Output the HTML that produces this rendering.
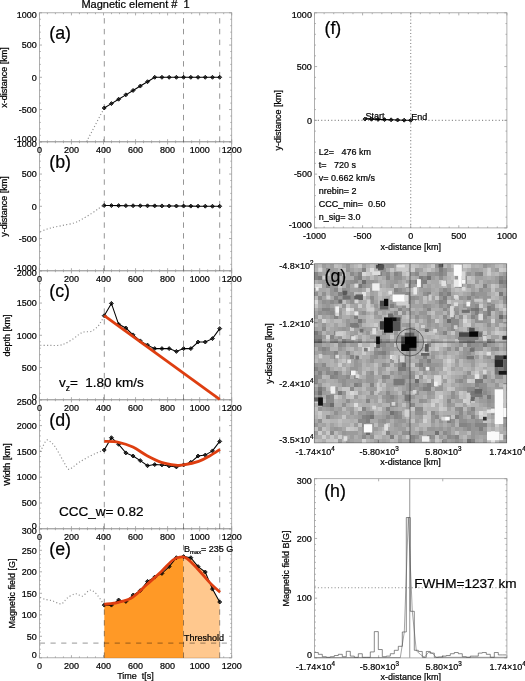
<!DOCTYPE html>
<html><head><meta charset="utf-8"><title>Magnetic element</title>
<style>html,body{margin:0;padding:0;background:#fff}svg{display:block}text{font-family:"Liberation Sans",sans-serif;fill:#000;stroke:#000;stroke-width:0.22px}</style>
</head><body>
<svg width="525" height="681" viewBox="0 0 525 681">
<rect width="525" height="681" fill="#fff"/>
<defs><filter id="noaa" color-interpolation-filters="sRGB" filterUnits="userSpaceOnUse" x="0" y="0" width="525" height="681"><feOffset dx="0" dy="0"/></filter></defs>
<g filter="url(#noaa)">
<rect x="39.40" y="12.80" width="192.30" height="129.00" fill="none" stroke="#9a9a9a" stroke-width="0.8"/>
<path d="M39.40 141.80v-2.60M39.40 12.80v2.60M47.41 141.80v-1.40M47.41 12.80v1.40M55.42 141.80v-1.40M55.42 12.80v1.40M63.44 141.80v-1.40M63.44 12.80v1.40M71.45 141.80v-2.60M71.45 12.80v2.60M79.46 141.80v-1.40M79.46 12.80v1.40M87.47 141.80v-1.40M87.47 12.80v1.40M95.49 141.80v-1.40M95.49 12.80v1.40M103.50 141.80v-2.60M103.50 12.80v2.60M111.51 141.80v-1.40M111.51 12.80v1.40M119.52 141.80v-1.40M119.52 12.80v1.40M127.54 141.80v-1.40M127.54 12.80v1.40M135.55 141.80v-2.60M135.55 12.80v2.60M143.56 141.80v-1.40M143.56 12.80v1.40M151.57 141.80v-1.40M151.57 12.80v1.40M159.59 141.80v-1.40M159.59 12.80v1.40M167.60 141.80v-2.60M167.60 12.80v2.60M175.61 141.80v-1.40M175.61 12.80v1.40M183.62 141.80v-1.40M183.62 12.80v1.40M191.64 141.80v-1.40M191.64 12.80v1.40M199.65 141.80v-2.60M199.65 12.80v2.60M207.66 141.80v-1.40M207.66 12.80v1.40M215.67 141.80v-1.40M215.67 12.80v1.40M223.69 141.80v-1.40M223.69 12.80v1.40M231.70 141.80v-2.60M231.70 12.80v2.60" stroke="#9a9a9a" stroke-width="0.8" fill="none"/>
<path d="M39.40 141.80h2.60M231.70 141.80h-2.60M39.40 135.35h1.40M231.70 135.35h-1.40M39.40 128.90h1.40M231.70 128.90h-1.40M39.40 122.45h1.40M231.70 122.45h-1.40M39.40 116.00h1.40M231.70 116.00h-1.40M39.40 109.55h2.60M231.70 109.55h-2.60M39.40 103.10h1.40M231.70 103.10h-1.40M39.40 96.65h1.40M231.70 96.65h-1.40M39.40 90.20h1.40M231.70 90.20h-1.40M39.40 83.75h1.40M231.70 83.75h-1.40M39.40 77.30h2.60M231.70 77.30h-2.60M39.40 70.85h1.40M231.70 70.85h-1.40M39.40 64.40h1.40M231.70 64.40h-1.40M39.40 57.95h1.40M231.70 57.95h-1.40M39.40 51.50h1.40M231.70 51.50h-1.40M39.40 45.05h2.60M231.70 45.05h-2.60M39.40 38.60h1.40M231.70 38.60h-1.40M39.40 32.15h1.40M231.70 32.15h-1.40M39.40 25.70h1.40M231.70 25.70h-1.40M39.40 19.25h1.40M231.70 19.25h-1.40M39.40 12.80h2.60M231.70 12.80h-2.60" stroke="#9a9a9a" stroke-width="0.8" fill="none"/>
<text transform="translate(7.0 77.50) rotate(-90)" font-size="9" text-anchor="middle">x-distance [km]</text>
<rect x="39.40" y="141.80" width="192.30" height="129.00" fill="none" stroke="#9a9a9a" stroke-width="0.8"/>
<path d="M39.40 270.80v-2.60M39.40 141.80v2.60M47.41 270.80v-1.40M47.41 141.80v1.40M55.42 270.80v-1.40M55.42 141.80v1.40M63.44 270.80v-1.40M63.44 141.80v1.40M71.45 270.80v-2.60M71.45 141.80v2.60M79.46 270.80v-1.40M79.46 141.80v1.40M87.47 270.80v-1.40M87.47 141.80v1.40M95.49 270.80v-1.40M95.49 141.80v1.40M103.50 270.80v-2.60M103.50 141.80v2.60M111.51 270.80v-1.40M111.51 141.80v1.40M119.52 270.80v-1.40M119.52 141.80v1.40M127.54 270.80v-1.40M127.54 141.80v1.40M135.55 270.80v-2.60M135.55 141.80v2.60M143.56 270.80v-1.40M143.56 141.80v1.40M151.57 270.80v-1.40M151.57 141.80v1.40M159.59 270.80v-1.40M159.59 141.80v1.40M167.60 270.80v-2.60M167.60 141.80v2.60M175.61 270.80v-1.40M175.61 141.80v1.40M183.62 270.80v-1.40M183.62 141.80v1.40M191.64 270.80v-1.40M191.64 141.80v1.40M199.65 270.80v-2.60M199.65 141.80v2.60M207.66 270.80v-1.40M207.66 141.80v1.40M215.67 270.80v-1.40M215.67 141.80v1.40M223.69 270.80v-1.40M223.69 141.80v1.40M231.70 270.80v-2.60M231.70 141.80v2.60" stroke="#9a9a9a" stroke-width="0.8" fill="none"/>
<path d="M39.40 270.80h2.60M231.70 270.80h-2.60M39.40 264.35h1.40M231.70 264.35h-1.40M39.40 257.90h1.40M231.70 257.90h-1.40M39.40 251.45h1.40M231.70 251.45h-1.40M39.40 245.00h1.40M231.70 245.00h-1.40M39.40 238.55h2.60M231.70 238.55h-2.60M39.40 232.10h1.40M231.70 232.10h-1.40M39.40 225.65h1.40M231.70 225.65h-1.40M39.40 219.20h1.40M231.70 219.20h-1.40M39.40 212.75h1.40M231.70 212.75h-1.40M39.40 206.30h2.60M231.70 206.30h-2.60M39.40 199.85h1.40M231.70 199.85h-1.40M39.40 193.40h1.40M231.70 193.40h-1.40M39.40 186.95h1.40M231.70 186.95h-1.40M39.40 180.50h1.40M231.70 180.50h-1.40M39.40 174.05h2.60M231.70 174.05h-2.60M39.40 167.60h1.40M231.70 167.60h-1.40M39.40 161.15h1.40M231.70 161.15h-1.40M39.40 154.70h1.40M231.70 154.70h-1.40M39.40 148.25h1.40M231.70 148.25h-1.40M39.40 141.80h2.60M231.70 141.80h-2.60" stroke="#9a9a9a" stroke-width="0.8" fill="none"/>
<text transform="translate(7.0 206.50) rotate(-90)" font-size="9" text-anchor="middle">y-distance [km]</text>
<rect x="39.40" y="270.80" width="192.30" height="129.00" fill="none" stroke="#9a9a9a" stroke-width="0.8"/>
<path d="M39.40 399.80v-2.60M39.40 270.80v2.60M47.41 399.80v-1.40M47.41 270.80v1.40M55.42 399.80v-1.40M55.42 270.80v1.40M63.44 399.80v-1.40M63.44 270.80v1.40M71.45 399.80v-2.60M71.45 270.80v2.60M79.46 399.80v-1.40M79.46 270.80v1.40M87.47 399.80v-1.40M87.47 270.80v1.40M95.49 399.80v-1.40M95.49 270.80v1.40M103.50 399.80v-2.60M103.50 270.80v2.60M111.51 399.80v-1.40M111.51 270.80v1.40M119.52 399.80v-1.40M119.52 270.80v1.40M127.54 399.80v-1.40M127.54 270.80v1.40M135.55 399.80v-2.60M135.55 270.80v2.60M143.56 399.80v-1.40M143.56 270.80v1.40M151.57 399.80v-1.40M151.57 270.80v1.40M159.59 399.80v-1.40M159.59 270.80v1.40M167.60 399.80v-2.60M167.60 270.80v2.60M175.61 399.80v-1.40M175.61 270.80v1.40M183.62 399.80v-1.40M183.62 270.80v1.40M191.64 399.80v-1.40M191.64 270.80v1.40M199.65 399.80v-2.60M199.65 270.80v2.60M207.66 399.80v-1.40M207.66 270.80v1.40M215.67 399.80v-1.40M215.67 270.80v1.40M223.69 399.80v-1.40M223.69 270.80v1.40M231.70 399.80v-2.60M231.70 270.80v2.60" stroke="#9a9a9a" stroke-width="0.8" fill="none"/>
<path d="M39.40 399.80h2.60M231.70 399.80h-2.60M39.40 393.35h1.40M231.70 393.35h-1.40M39.40 386.90h1.40M231.70 386.90h-1.40M39.40 380.45h1.40M231.70 380.45h-1.40M39.40 374.00h1.40M231.70 374.00h-1.40M39.40 367.55h2.60M231.70 367.55h-2.60M39.40 361.10h1.40M231.70 361.10h-1.40M39.40 354.65h1.40M231.70 354.65h-1.40M39.40 348.20h1.40M231.70 348.20h-1.40M39.40 341.75h1.40M231.70 341.75h-1.40M39.40 335.30h2.60M231.70 335.30h-2.60M39.40 328.85h1.40M231.70 328.85h-1.40M39.40 322.40h1.40M231.70 322.40h-1.40M39.40 315.95h1.40M231.70 315.95h-1.40M39.40 309.50h1.40M231.70 309.50h-1.40M39.40 303.05h2.60M231.70 303.05h-2.60M39.40 296.60h1.40M231.70 296.60h-1.40M39.40 290.15h1.40M231.70 290.15h-1.40M39.40 283.70h1.40M231.70 283.70h-1.40M39.40 277.25h1.40M231.70 277.25h-1.40M39.40 270.80h2.60M231.70 270.80h-2.60" stroke="#9a9a9a" stroke-width="0.8" fill="none"/>
<text transform="translate(10.0 335.50) rotate(-90)" font-size="9" text-anchor="middle">depth [km]</text>
<rect x="39.40" y="399.80" width="192.30" height="129.00" fill="none" stroke="#9a9a9a" stroke-width="0.8"/>
<path d="M39.40 528.80v-2.60M39.40 399.80v2.60M47.41 528.80v-1.40M47.41 399.80v1.40M55.42 528.80v-1.40M55.42 399.80v1.40M63.44 528.80v-1.40M63.44 399.80v1.40M71.45 528.80v-2.60M71.45 399.80v2.60M79.46 528.80v-1.40M79.46 399.80v1.40M87.47 528.80v-1.40M87.47 399.80v1.40M95.49 528.80v-1.40M95.49 399.80v1.40M103.50 528.80v-2.60M103.50 399.80v2.60M111.51 528.80v-1.40M111.51 399.80v1.40M119.52 528.80v-1.40M119.52 399.80v1.40M127.54 528.80v-1.40M127.54 399.80v1.40M135.55 528.80v-2.60M135.55 399.80v2.60M143.56 528.80v-1.40M143.56 399.80v1.40M151.57 528.80v-1.40M151.57 399.80v1.40M159.59 528.80v-1.40M159.59 399.80v1.40M167.60 528.80v-2.60M167.60 399.80v2.60M175.61 528.80v-1.40M175.61 399.80v1.40M183.62 528.80v-1.40M183.62 399.80v1.40M191.64 528.80v-1.40M191.64 399.80v1.40M199.65 528.80v-2.60M199.65 399.80v2.60M207.66 528.80v-1.40M207.66 399.80v1.40M215.67 528.80v-1.40M215.67 399.80v1.40M223.69 528.80v-1.40M223.69 399.80v1.40M231.70 528.80v-2.60M231.70 399.80v2.60" stroke="#9a9a9a" stroke-width="0.8" fill="none"/>
<path d="M39.40 528.80h2.60M231.70 528.80h-2.60M39.40 523.64h1.40M231.70 523.64h-1.40M39.40 518.48h1.40M231.70 518.48h-1.40M39.40 513.32h1.40M231.70 513.32h-1.40M39.40 508.16h1.40M231.70 508.16h-1.40M39.40 503.00h2.60M231.70 503.00h-2.60M39.40 497.84h1.40M231.70 497.84h-1.40M39.40 492.68h1.40M231.70 492.68h-1.40M39.40 487.52h1.40M231.70 487.52h-1.40M39.40 482.36h1.40M231.70 482.36h-1.40M39.40 477.20h2.60M231.70 477.20h-2.60M39.40 472.04h1.40M231.70 472.04h-1.40M39.40 466.88h1.40M231.70 466.88h-1.40M39.40 461.72h1.40M231.70 461.72h-1.40M39.40 456.56h1.40M231.70 456.56h-1.40M39.40 451.40h2.60M231.70 451.40h-2.60M39.40 446.24h1.40M231.70 446.24h-1.40M39.40 441.08h1.40M231.70 441.08h-1.40M39.40 435.92h1.40M231.70 435.92h-1.40M39.40 430.76h1.40M231.70 430.76h-1.40M39.40 425.60h2.60M231.70 425.60h-2.60M39.40 420.44h1.40M231.70 420.44h-1.40M39.40 415.28h1.40M231.70 415.28h-1.40M39.40 410.12h1.40M231.70 410.12h-1.40M39.40 404.96h1.40M231.70 404.96h-1.40M39.40 399.80h2.60M231.70 399.80h-2.60" stroke="#9a9a9a" stroke-width="0.8" fill="none"/>
<text transform="translate(10.0 464.50) rotate(-90)" font-size="9" text-anchor="middle">Width [km]</text>
<rect x="39.40" y="528.80" width="192.30" height="129.00" fill="none" stroke="#9a9a9a" stroke-width="0.8"/>
<path d="M39.40 657.80v-2.60M39.40 528.80v2.60M47.41 657.80v-1.40M47.41 528.80v1.40M55.42 657.80v-1.40M55.42 528.80v1.40M63.44 657.80v-1.40M63.44 528.80v1.40M71.45 657.80v-2.60M71.45 528.80v2.60M79.46 657.80v-1.40M79.46 528.80v1.40M87.47 657.80v-1.40M87.47 528.80v1.40M95.49 657.80v-1.40M95.49 528.80v1.40M103.50 657.80v-2.60M103.50 528.80v2.60M111.51 657.80v-1.40M111.51 528.80v1.40M119.52 657.80v-1.40M119.52 528.80v1.40M127.54 657.80v-1.40M127.54 528.80v1.40M135.55 657.80v-2.60M135.55 528.80v2.60M143.56 657.80v-1.40M143.56 528.80v1.40M151.57 657.80v-1.40M151.57 528.80v1.40M159.59 657.80v-1.40M159.59 528.80v1.40M167.60 657.80v-2.60M167.60 528.80v2.60M175.61 657.80v-1.40M175.61 528.80v1.40M183.62 657.80v-1.40M183.62 528.80v1.40M191.64 657.80v-1.40M191.64 528.80v1.40M199.65 657.80v-2.60M199.65 528.80v2.60M207.66 657.80v-1.40M207.66 528.80v1.40M215.67 657.80v-1.40M215.67 528.80v1.40M223.69 657.80v-1.40M223.69 528.80v1.40M231.70 657.80v-2.60M231.70 528.80v2.60" stroke="#9a9a9a" stroke-width="0.8" fill="none"/>
<path d="M39.40 657.80h2.60M231.70 657.80h-2.60M39.40 653.50h1.40M231.70 653.50h-1.40M39.40 649.20h1.40M231.70 649.20h-1.40M39.40 644.90h1.40M231.70 644.90h-1.40M39.40 640.60h1.40M231.70 640.60h-1.40M39.40 636.30h2.60M231.70 636.30h-2.60M39.40 632.00h1.40M231.70 632.00h-1.40M39.40 627.70h1.40M231.70 627.70h-1.40M39.40 623.40h1.40M231.70 623.40h-1.40M39.40 619.10h1.40M231.70 619.10h-1.40M39.40 614.80h2.60M231.70 614.80h-2.60M39.40 610.50h1.40M231.70 610.50h-1.40M39.40 606.20h1.40M231.70 606.20h-1.40M39.40 601.90h1.40M231.70 601.90h-1.40M39.40 597.60h1.40M231.70 597.60h-1.40M39.40 593.30h2.60M231.70 593.30h-2.60M39.40 589.00h1.40M231.70 589.00h-1.40M39.40 584.70h1.40M231.70 584.70h-1.40M39.40 580.40h1.40M231.70 580.40h-1.40M39.40 576.10h1.40M231.70 576.10h-1.40M39.40 571.80h2.60M231.70 571.80h-2.60M39.40 567.50h1.40M231.70 567.50h-1.40M39.40 563.20h1.40M231.70 563.20h-1.40M39.40 558.90h1.40M231.70 558.90h-1.40M39.40 554.60h1.40M231.70 554.60h-1.40M39.40 550.30h2.60M231.70 550.30h-2.60M39.40 546.00h1.40M231.70 546.00h-1.40M39.40 541.70h1.40M231.70 541.70h-1.40M39.40 537.40h1.40M231.70 537.40h-1.40M39.40 533.10h1.40M231.70 533.10h-1.40M39.40 528.80h2.60M231.70 528.80h-2.60" stroke="#9a9a9a" stroke-width="0.8" fill="none"/>
<text transform="translate(14.7 593.50) rotate(-90)" font-size="9" text-anchor="middle">Magnetic field [G]</text>
<polygon points="104.30,657.90 104.30,605.10 111.42,605.10 118.64,600.00 125.86,601.40 133.07,595.10 140.29,590.60 147.51,581.40 154.73,577.10 161.95,573.40 169.17,566.60 176.39,557.70 183.61,556.60 183.62,556.60 183.62,657.90" fill="#ff9926"/>
<polygon points="183.62,657.90 183.62,556.60 190.82,557.70 198.04,566.60 205.26,572.00 212.48,589.10 219.70,602.00 219.70,657.90" fill="#ffc88e"/>
<line x1="104.3" y1="657.80" x2="219.70" y2="657.80" stroke="#b07030" stroke-width="0.5" opacity="0.5"/>
<line x1="104.30" y1="141.80" x2="104.30" y2="12.80" stroke="#000" stroke-opacity="0.46" stroke-width="0.9" stroke-dasharray="5.4 5.35"/>
<line x1="183.50" y1="141.80" x2="183.50" y2="12.80" stroke="#000" stroke-opacity="0.46" stroke-width="0.9" stroke-dasharray="5.4 5.35"/>
<line x1="219.70" y1="141.80" x2="219.70" y2="12.80" stroke="#000" stroke-opacity="0.46" stroke-width="0.9" stroke-dasharray="5.4 5.35"/>
<line x1="104.30" y1="270.80" x2="104.30" y2="141.80" stroke="#000" stroke-opacity="0.46" stroke-width="0.9" stroke-dasharray="5.4 5.35"/>
<line x1="183.50" y1="270.80" x2="183.50" y2="141.80" stroke="#000" stroke-opacity="0.46" stroke-width="0.9" stroke-dasharray="5.4 5.35"/>
<line x1="219.70" y1="270.80" x2="219.70" y2="141.80" stroke="#000" stroke-opacity="0.46" stroke-width="0.9" stroke-dasharray="5.4 5.35"/>
<line x1="104.30" y1="399.80" x2="104.30" y2="270.80" stroke="#000" stroke-opacity="0.46" stroke-width="0.9" stroke-dasharray="5.4 5.35"/>
<line x1="183.50" y1="399.80" x2="183.50" y2="270.80" stroke="#000" stroke-opacity="0.46" stroke-width="0.9" stroke-dasharray="5.4 5.35"/>
<line x1="219.70" y1="399.80" x2="219.70" y2="270.80" stroke="#000" stroke-opacity="0.46" stroke-width="0.9" stroke-dasharray="5.4 5.35"/>
<line x1="104.30" y1="528.80" x2="104.30" y2="399.80" stroke="#000" stroke-opacity="0.46" stroke-width="0.9" stroke-dasharray="5.4 5.35"/>
<line x1="183.50" y1="528.80" x2="183.50" y2="399.80" stroke="#000" stroke-opacity="0.46" stroke-width="0.9" stroke-dasharray="5.4 5.35"/>
<line x1="219.70" y1="528.80" x2="219.70" y2="399.80" stroke="#000" stroke-opacity="0.46" stroke-width="0.9" stroke-dasharray="5.4 5.35"/>
<line x1="104.30" y1="657.80" x2="104.30" y2="528.80" stroke="#000" stroke-opacity="0.46" stroke-width="0.9" stroke-dasharray="5.4 5.35"/>
<line x1="183.50" y1="657.80" x2="183.50" y2="528.80" stroke="#000" stroke-opacity="0.46" stroke-width="0.9" stroke-dasharray="5.4 5.35"/>
<line x1="219.70" y1="657.80" x2="219.70" y2="528.80" stroke="#000" stroke-opacity="0.46" stroke-width="0.9" stroke-dasharray="5.4 5.35"/>
<polyline points="86.50,141.80 104.20,108.00" fill="none" stroke="#8e8e8e" stroke-width="1.15" stroke-dasharray="1.1 2.25"/>
<polyline points="104.20,108.00 111.42,103.62 118.64,99.23 125.86,94.84 133.07,90.46 140.29,86.07 147.51,81.69 154.73,77.30 161.95,77.30 169.17,77.30 176.39,77.30 183.61,77.30 190.82,77.30 198.04,77.30 205.26,77.30 212.48,77.30 219.70,77.30" fill="none" stroke="#000" stroke-width="1.05" />
<path d="M104.20 106.00l2.00 2.00l-2.00 2.00l-2.00 -2.00zM111.42 101.62l2.00 2.00l-2.00 2.00l-2.00 -2.00zM118.64 97.23l2.00 2.00l-2.00 2.00l-2.00 -2.00zM125.86 92.84l2.00 2.00l-2.00 2.00l-2.00 -2.00zM133.07 88.46l2.00 2.00l-2.00 2.00l-2.00 -2.00zM140.29 84.07l2.00 2.00l-2.00 2.00l-2.00 -2.00zM147.51 79.69l2.00 2.00l-2.00 2.00l-2.00 -2.00zM154.73 75.30l2.00 2.00l-2.00 2.00l-2.00 -2.00zM161.95 75.30l2.00 2.00l-2.00 2.00l-2.00 -2.00zM169.17 75.30l2.00 2.00l-2.00 2.00l-2.00 -2.00zM176.39 75.30l2.00 2.00l-2.00 2.00l-2.00 -2.00zM183.61 75.30l2.00 2.00l-2.00 2.00l-2.00 -2.00zM190.82 75.30l2.00 2.00l-2.00 2.00l-2.00 -2.00zM198.04 75.30l2.00 2.00l-2.00 2.00l-2.00 -2.00zM205.26 75.30l2.00 2.00l-2.00 2.00l-2.00 -2.00zM212.48 75.30l2.00 2.00l-2.00 2.00l-2.00 -2.00zM219.70 75.30l2.00 2.00l-2.00 2.00l-2.00 -2.00z" fill="#000" fill-opacity="0.7" stroke="#000" stroke-width="0.8" stroke-linejoin="miter"/>
<path d="M40.30 231.50C41.95 230.93 46.52 229.10 50.20 228.10C53.88 227.10 58.33 226.38 62.40 225.50C66.47 224.62 71.28 223.88 74.60 222.80C77.92 221.72 79.50 220.53 82.30 219.00C85.10 217.47 88.62 215.38 91.40 213.60C94.18 211.82 96.87 209.65 99.00 208.30C101.13 206.95 103.33 205.99 104.20 205.53" fill="none" stroke="#8e8e8e" stroke-width="1.15" stroke-dasharray="1.1 2.25"/>
<polyline points="104.20,205.53 111.42,205.57 118.64,205.62 125.86,205.67 133.07,205.72 140.29,205.77 147.51,205.82 154.73,205.86 161.95,205.91 169.17,205.96 176.39,206.01 183.61,206.06 190.82,206.11 198.04,206.15 205.26,206.20 212.48,206.25 219.70,206.30" fill="none" stroke="#000" stroke-width="1.05" />
<path d="M104.20 203.53l2.00 2.00l-2.00 2.00l-2.00 -2.00zM111.42 203.57l2.00 2.00l-2.00 2.00l-2.00 -2.00zM118.64 203.62l2.00 2.00l-2.00 2.00l-2.00 -2.00zM125.86 203.67l2.00 2.00l-2.00 2.00l-2.00 -2.00zM133.07 203.72l2.00 2.00l-2.00 2.00l-2.00 -2.00zM140.29 203.77l2.00 2.00l-2.00 2.00l-2.00 -2.00zM147.51 203.82l2.00 2.00l-2.00 2.00l-2.00 -2.00zM154.73 203.86l2.00 2.00l-2.00 2.00l-2.00 -2.00zM161.95 203.91l2.00 2.00l-2.00 2.00l-2.00 -2.00zM169.17 203.96l2.00 2.00l-2.00 2.00l-2.00 -2.00zM176.39 204.01l2.00 2.00l-2.00 2.00l-2.00 -2.00zM183.61 204.06l2.00 2.00l-2.00 2.00l-2.00 -2.00zM190.82 204.11l2.00 2.00l-2.00 2.00l-2.00 -2.00zM198.04 204.15l2.00 2.00l-2.00 2.00l-2.00 -2.00zM205.26 204.20l2.00 2.00l-2.00 2.00l-2.00 -2.00zM212.48 204.25l2.00 2.00l-2.00 2.00l-2.00 -2.00zM219.70 204.30l2.00 2.00l-2.00 2.00l-2.00 -2.00z" fill="#000" fill-opacity="0.7" stroke="#000" stroke-width="0.8" stroke-linejoin="miter"/>
<path d="M40.30 345.30C41.95 345.32 47.02 345.40 50.20 345.40C53.38 345.40 56.85 345.63 59.40 345.30C61.95 344.97 63.22 344.47 65.50 343.40C67.78 342.33 70.82 340.42 73.10 338.90C75.38 337.38 77.42 335.45 79.20 334.30C80.98 333.15 81.77 332.50 83.80 332.00C85.83 331.50 89.12 332.18 91.40 331.30C93.68 330.42 95.85 328.37 97.50 326.70C99.15 325.03 100.18 323.13 101.30 321.30C102.42 319.47 103.72 316.63 104.20 315.70" fill="none" stroke="#8e8e8e" stroke-width="1.15" stroke-dasharray="1.1 2.25"/>
<polyline points="104.20,315.70 111.42,303.40 118.64,324.30 125.86,328.00 133.07,334.90 140.29,340.90 147.51,345.10 154.73,348.60 161.95,348.60 169.17,348.60 176.39,351.40 183.61,348.60 190.82,348.60 198.04,342.00 205.26,342.00 212.48,338.60 219.70,328.60" fill="none" stroke="#000" stroke-width="1.05" />
<path d="M104.20 313.70l2.00 2.00l-2.00 2.00l-2.00 -2.00zM111.42 301.40l2.00 2.00l-2.00 2.00l-2.00 -2.00zM118.64 322.30l2.00 2.00l-2.00 2.00l-2.00 -2.00zM125.86 326.00l2.00 2.00l-2.00 2.00l-2.00 -2.00zM133.07 332.90l2.00 2.00l-2.00 2.00l-2.00 -2.00zM140.29 338.90l2.00 2.00l-2.00 2.00l-2.00 -2.00zM147.51 343.10l2.00 2.00l-2.00 2.00l-2.00 -2.00zM154.73 346.60l2.00 2.00l-2.00 2.00l-2.00 -2.00zM161.95 346.60l2.00 2.00l-2.00 2.00l-2.00 -2.00zM169.17 346.60l2.00 2.00l-2.00 2.00l-2.00 -2.00zM176.39 349.40l2.00 2.00l-2.00 2.00l-2.00 -2.00zM183.61 346.60l2.00 2.00l-2.00 2.00l-2.00 -2.00zM190.82 346.60l2.00 2.00l-2.00 2.00l-2.00 -2.00zM198.04 340.00l2.00 2.00l-2.00 2.00l-2.00 -2.00zM205.26 340.00l2.00 2.00l-2.00 2.00l-2.00 -2.00zM212.48 336.60l2.00 2.00l-2.00 2.00l-2.00 -2.00zM219.70 326.60l2.00 2.00l-2.00 2.00l-2.00 -2.00z" fill="#000" fill-opacity="0.7" stroke="#000" stroke-width="0.8" stroke-linejoin="miter"/>
<line x1="104.20" y1="315.70" x2="219.70" y2="399.30" stroke="#de3e10" stroke-width="2.8" stroke-linecap="butt"/>
<text x="59" y="387.2" font-size="13.5">v<tspan font-size="8.4" dy="3.4">z</tspan><tspan dy="-3.4">=&#160; 1.80 km/s</tspan></text>
<path d="M40.30 451.70C40.68 450.93 41.58 449.02 42.60 447.10C43.62 445.18 45.13 441.13 46.40 440.20C47.67 439.27 48.80 440.48 50.20 441.50C51.60 442.52 53.27 444.22 54.80 446.30C56.33 448.38 57.87 451.33 59.40 454.00C60.93 456.67 62.48 459.77 64.00 462.30C65.52 464.83 66.98 468.43 68.50 469.20C70.02 469.97 71.32 468.05 73.10 466.90C74.88 465.75 76.92 463.82 79.20 462.30C81.48 460.78 84.00 459.32 86.80 457.80C89.60 456.28 93.10 454.50 96.00 453.20C98.90 451.90 102.83 450.53 104.20 450.00" fill="none" stroke="#8e8e8e" stroke-width="1.15" stroke-dasharray="1.1 2.25"/>
<polyline points="104.20,450.00 111.42,437.70 118.64,444.30 125.86,452.90 133.07,456.00 140.29,460.60 147.51,465.70 154.73,464.60 161.95,464.90 169.17,466.00 176.39,466.90 183.61,464.90 190.82,462.30 198.04,456.00 205.26,455.10 212.48,450.90 219.70,441.40" fill="none" stroke="#000" stroke-width="1.05" />
<path d="M104.20 448.00l2.00 2.00l-2.00 2.00l-2.00 -2.00zM111.42 435.70l2.00 2.00l-2.00 2.00l-2.00 -2.00zM118.64 442.30l2.00 2.00l-2.00 2.00l-2.00 -2.00zM125.86 450.90l2.00 2.00l-2.00 2.00l-2.00 -2.00zM133.07 454.00l2.00 2.00l-2.00 2.00l-2.00 -2.00zM140.29 458.60l2.00 2.00l-2.00 2.00l-2.00 -2.00zM147.51 463.70l2.00 2.00l-2.00 2.00l-2.00 -2.00zM154.73 462.60l2.00 2.00l-2.00 2.00l-2.00 -2.00zM161.95 462.90l2.00 2.00l-2.00 2.00l-2.00 -2.00zM169.17 464.00l2.00 2.00l-2.00 2.00l-2.00 -2.00zM176.39 464.90l2.00 2.00l-2.00 2.00l-2.00 -2.00zM183.61 462.90l2.00 2.00l-2.00 2.00l-2.00 -2.00zM190.82 460.30l2.00 2.00l-2.00 2.00l-2.00 -2.00zM198.04 454.00l2.00 2.00l-2.00 2.00l-2.00 -2.00zM205.26 453.10l2.00 2.00l-2.00 2.00l-2.00 -2.00zM212.48 448.90l2.00 2.00l-2.00 2.00l-2.00 -2.00zM219.70 439.40l2.00 2.00l-2.00 2.00l-2.00 -2.00z" fill="#000" fill-opacity="0.7" stroke="#000" stroke-width="0.8" stroke-linejoin="miter"/>
<path d="M104.30 441.40C106.68 441.55 113.83 441.35 118.60 442.30C123.37 443.25 128.15 444.87 132.90 447.10C137.65 449.33 142.35 453.17 147.10 455.70C151.85 458.23 156.63 460.73 161.40 462.30C166.17 463.87 171.98 464.67 175.70 465.10C179.42 465.53 179.88 465.52 183.70 464.90C187.52 464.28 194.22 462.93 198.60 461.40C202.98 459.87 206.43 457.70 210.00 455.70C213.57 453.70 218.33 450.45 220.00 449.40" fill="none" stroke="#de3e10" stroke-width="2.8"/>
<path d="M40.30 597.40C41.07 597.72 42.87 598.73 44.90 599.30C46.93 599.87 50.08 600.05 52.50 600.80C54.92 601.55 57.62 603.47 59.40 603.80C61.18 604.13 61.93 603.73 63.20 602.80C64.47 601.87 65.22 599.65 67.00 598.20C68.78 596.75 72.12 594.78 73.90 594.10C75.68 593.42 76.30 593.75 77.70 594.10C79.10 594.45 80.52 596.72 82.30 596.20C84.08 595.68 86.75 591.93 88.40 591.00C90.05 590.07 90.68 589.90 92.20 590.60C93.72 591.30 95.50 592.78 97.50 595.20C99.50 597.62 103.08 603.45 104.20 605.10" fill="none" stroke="#8e8e8e" stroke-width="1.15" stroke-dasharray="1.1 2.25"/>
<polyline points="104.20,605.10 111.42,605.10 118.64,600.00 125.86,601.40 133.07,595.10 140.29,590.60 147.51,581.40 154.73,577.10 161.95,573.40 169.17,566.60 176.39,557.70 183.61,556.60 190.82,557.70 198.04,566.60 205.26,572.00 212.48,589.10 219.70,602.00" fill="none" stroke="#000" stroke-width="1.05" />
<path d="M104.20 603.10l2.00 2.00l-2.00 2.00l-2.00 -2.00zM111.42 603.10l2.00 2.00l-2.00 2.00l-2.00 -2.00zM118.64 598.00l2.00 2.00l-2.00 2.00l-2.00 -2.00zM125.86 599.40l2.00 2.00l-2.00 2.00l-2.00 -2.00zM133.07 593.10l2.00 2.00l-2.00 2.00l-2.00 -2.00zM140.29 588.60l2.00 2.00l-2.00 2.00l-2.00 -2.00zM147.51 579.40l2.00 2.00l-2.00 2.00l-2.00 -2.00zM154.73 575.10l2.00 2.00l-2.00 2.00l-2.00 -2.00zM161.95 571.40l2.00 2.00l-2.00 2.00l-2.00 -2.00zM169.17 564.60l2.00 2.00l-2.00 2.00l-2.00 -2.00zM176.39 555.70l2.00 2.00l-2.00 2.00l-2.00 -2.00zM183.61 554.60l2.00 2.00l-2.00 2.00l-2.00 -2.00zM190.82 555.70l2.00 2.00l-2.00 2.00l-2.00 -2.00zM198.04 564.60l2.00 2.00l-2.00 2.00l-2.00 -2.00zM205.26 570.00l2.00 2.00l-2.00 2.00l-2.00 -2.00zM212.48 587.10l2.00 2.00l-2.00 2.00l-2.00 -2.00zM219.70 600.00l2.00 2.00l-2.00 2.00l-2.00 -2.00z" fill="#000" fill-opacity="0.7" stroke="#000" stroke-width="0.8" stroke-linejoin="miter"/>
<path d="M104.30 604.30C106.68 603.97 113.83 603.50 118.60 602.30C123.37 601.10 128.15 600.10 132.90 597.10C137.65 594.10 142.35 588.58 147.10 584.30C151.85 580.02 157.10 575.45 161.40 571.40C165.70 567.35 169.80 562.38 172.90 560.00C176.00 557.62 177.63 557.33 180.00 557.10C182.37 556.87 184.00 556.45 187.10 558.60C190.20 560.75 194.78 565.95 198.60 570.00C202.42 574.05 206.43 579.18 210.00 582.90C213.57 586.62 218.33 590.73 220.00 592.30" fill="none" stroke="#de3e10" stroke-width="2.8"/>
<line x1="39.40" y1="643.1" x2="228" y2="643.1" stroke="#000" stroke-opacity="0.46" stroke-width="0.9" stroke-dasharray="5.2 5.5" stroke-dashoffset="-0.4"/>
<text x="184.1" y="551.8" font-size="9">B<tspan font-size="5.8" dy="2">max</tspan><tspan dy="-2">= 235 G</tspan></text>
<rect x="314.50" y="12.80" width="192.40" height="215.10" fill="none" stroke="#9a9a9a" stroke-width="0.8"/>
<path d="M314.50 227.90v-2.60M314.50 12.80v2.60M324.12 227.90v-1.40M324.12 12.80v1.40M333.74 227.90v-1.40M333.74 12.80v1.40M343.36 227.90v-1.40M343.36 12.80v1.40M352.98 227.90v-1.40M352.98 12.80v1.40M362.60 227.90v-2.60M362.60 12.80v2.60M372.22 227.90v-1.40M372.22 12.80v1.40M381.84 227.90v-1.40M381.84 12.80v1.40M391.46 227.90v-1.40M391.46 12.80v1.40M401.08 227.90v-1.40M401.08 12.80v1.40M410.70 227.90v-2.60M410.70 12.80v2.60M420.32 227.90v-1.40M420.32 12.80v1.40M429.94 227.90v-1.40M429.94 12.80v1.40M439.56 227.90v-1.40M439.56 12.80v1.40M449.18 227.90v-1.40M449.18 12.80v1.40M458.80 227.90v-2.60M458.80 12.80v2.60M468.42 227.90v-1.40M468.42 12.80v1.40M478.04 227.90v-1.40M478.04 12.80v1.40M487.66 227.90v-1.40M487.66 12.80v1.40M497.28 227.90v-1.40M497.28 12.80v1.40M506.90 227.90v-2.60M506.90 12.80v2.60" stroke="#9a9a9a" stroke-width="0.8" fill="none"/>
<path d="M314.50 227.90h2.60M506.90 227.90h-2.60M314.50 217.15h1.40M506.90 217.15h-1.40M314.50 206.39h1.40M506.90 206.39h-1.40M314.50 195.63h1.40M506.90 195.63h-1.40M314.50 184.88h1.40M506.90 184.88h-1.40M314.50 174.12h2.60M506.90 174.12h-2.60M314.50 163.37h1.40M506.90 163.37h-1.40M314.50 152.62h1.40M506.90 152.62h-1.40M314.50 141.86h1.40M506.90 141.86h-1.40M314.50 131.11h1.40M506.90 131.11h-1.40M314.50 120.35h2.60M506.90 120.35h-2.60M314.50 109.59h1.40M506.90 109.59h-1.40M314.50 98.84h1.40M506.90 98.84h-1.40M314.50 88.09h1.40M506.90 88.09h-1.40M314.50 77.33h1.40M506.90 77.33h-1.40M314.50 66.58h2.60M506.90 66.58h-2.60M314.50 55.82h1.40M506.90 55.82h-1.40M314.50 45.06h1.40M506.90 45.06h-1.40M314.50 34.31h1.40M506.90 34.31h-1.40M314.50 23.56h1.40M506.90 23.56h-1.40M314.50 12.80h2.60M506.90 12.80h-2.60" stroke="#9a9a9a" stroke-width="0.8" fill="none"/>
<text transform="translate(281.4 120.35) rotate(-90)" font-size="9" text-anchor="middle">y-distance [km]</text>
<polyline points="314.50,120.35 506.90,120.35" fill="none" stroke="#8e8e8e" stroke-width="1.15" stroke-dasharray="1.1 2.25"/>
<polyline points="410.70,12.80 410.70,227.90" fill="none" stroke="#8e8e8e" stroke-width="1.15" stroke-dasharray="1.1 2.25"/>
<polyline points="364.91,119.06 371.45,119.24 377.99,119.43 384.53,119.61 391.08,119.80 397.62,119.98 404.16,120.17 410.70,120.35" fill="none" stroke="#000" stroke-width="1.05" />
<path d="M364.91 117.06l2.00 2.00l-2.00 2.00l-2.00 -2.00zM371.45 117.24l2.00 2.00l-2.00 2.00l-2.00 -2.00zM377.99 117.43l2.00 2.00l-2.00 2.00l-2.00 -2.00zM384.53 117.61l2.00 2.00l-2.00 2.00l-2.00 -2.00zM391.08 117.80l2.00 2.00l-2.00 2.00l-2.00 -2.00zM397.62 117.98l2.00 2.00l-2.00 2.00l-2.00 -2.00zM404.16 118.17l2.00 2.00l-2.00 2.00l-2.00 -2.00zM410.70 118.35l2.00 2.00l-2.00 2.00l-2.00 -2.00z" fill="#000" fill-opacity="0.7" stroke="#000" stroke-width="0.8" stroke-linejoin="miter"/>
<rect x="314.30" y="263.70" width="192.40" height="179.20" fill="#a6a6a6"/>
<g shape-rendering="crispEdges">
<path fill="#6c6c6c" d="M362 280h4v4h-4zM499 315h4v4h-4zM447 319h4v4h-4zM318 339h4v4h-4zM402 363h4v4h-4zM415 379h4v4h-4zM318 391h4v4h-4zM330 403h4v4h-4zM366 431h4v4h-4z"/>
<path fill="#727272" d="M427 276h4v4h-4zM475 308h4v3h-4zM390 411h4v4h-4zM370 415h4v4h-4zM435 431h4v4h-4zM467 439h4v4h-4z"/>
<path fill="#787878" d="M318 276h4v4h-4zM459 280h4v4h-4zM499 280h4v4h-4zM358 284h4v4h-4zM499 292h4v4h-4zM471 308h4v3h-4zM358 319h4v4h-4zM354 323h4v4h-4zM314 331h4v4h-4zM314 339h4v4h-4zM467 339h4v4h-4zM483 343h4v4h-4zM398 367h4v4h-4zM402 367h4v4h-4zM475 379h4v4h-4zM479 379h4v4h-4zM318 387h4v4h-4zM338 391h4v4h-4zM471 391h4v4h-4zM487 395h4v4h-4z"/>
<path fill="#7e7e7e" d="M439 268h4v4h-4zM378 272h4v4h-4zM358 276h4v4h-4zM419 276h4v4h-4zM423 280h4v4h-4zM338 292h4v4h-4zM447 292h4v4h-4zM402 296h4v4h-4zM443 296h4v4h-4zM390 304h4v4h-4zM475 311h4v4h-4zM354 315h4v4h-4zM350 323h4v4h-4zM342 339h4v4h-4zM378 339h4v4h-4zM471 339h4v4h-4zM487 339h4v4h-4zM382 351h4v4h-4zM427 359h4v4h-4zM419 363h4v4h-4zM334 371h4v4h-4zM483 375h4v4h-4zM354 383h4v4h-4zM427 383h4v4h-4zM423 387h4v4h-4zM427 387h4v4h-4zM471 395h4v4h-4zM366 415h4v4h-4zM455 415h4v4h-4zM366 419h4v4h-4zM447 419h4v4h-4zM479 427h4v4h-4zM390 435h4v4h-4z"/>
<path fill="#848484" d="M362 268h4v4h-4zM314 272h4v4h-4zM338 272h4v4h-4zM358 272h4v4h-4zM394 272h4v4h-4zM439 272h4v4h-4zM479 272h4v4h-4zM314 276h4v4h-4zM386 276h4v4h-4zM499 276h4v4h-4zM415 280h4v4h-4zM419 280h4v4h-4zM455 280h4v4h-4zM503 280h4v4h-4zM326 284h4v4h-4zM483 284h4v4h-4zM334 288h4v4h-4zM394 288h4v4h-4zM427 292h4v4h-4zM439 292h4v4h-4zM334 296h4v4h-4zM354 296h4v4h-4zM467 296h4v4h-4zM354 300h4v4h-4zM439 300h4v4h-4zM322 308h4v3h-4zM326 308h4v3h-4zM398 308h4v3h-4zM427 308h4v3h-4zM491 308h4v3h-4zM334 315h4v4h-4zM390 315h4v4h-4zM451 315h4v4h-4zM471 315h4v4h-4zM334 331h4v4h-4zM443 331h4v4h-4zM314 335h4v4h-4zM318 335h4v4h-4zM330 335h4v4h-4zM410 335h5v4h-5zM463 339h4v4h-4zM467 343h4v4h-4zM322 347h4v4h-4zM471 347h4v4h-4zM334 351h4v4h-4zM378 351h4v4h-4zM334 355h4v4h-4zM350 355h4v4h-4zM402 355h4v4h-4zM423 355h4v4h-4zM398 363h4v4h-4zM314 367h4v4h-4zM318 371h4v4h-4zM330 375h4v4h-4zM382 375h4v4h-4zM370 383h4v4h-4zM475 383h4v4h-4zM467 391h4v4h-4zM326 395h4v4h-4zM390 395h4v4h-4zM366 399h4v4h-4zM326 403h4v4h-4zM362 407h4v4h-4zM386 407h4v4h-4zM471 407h4v4h-4zM394 411h4v4h-4zM362 415h4v4h-4zM394 415h4v4h-4zM471 415h4v4h-4zM459 423h4v4h-4zM463 423h4v4h-4zM475 423h4v4h-4zM479 423h4v4h-4zM483 423h4v4h-4zM386 431h4v4h-4zM410 435h5v4h-5zM427 435h4v4h-4zM455 435h4v4h-4zM471 439h4v4h-4z"/>
<path fill="#8a8a8a" d="M326 268h4v4h-4zM350 272h4v4h-4zM386 272h4v4h-4zM415 272h4v4h-4zM475 272h4v4h-4zM322 276h4v4h-4zM354 276h4v4h-4zM423 276h4v4h-4zM459 276h4v4h-4zM354 280h4v4h-4zM406 284h4v4h-4zM419 284h4v4h-4zM443 288h4v4h-4zM406 292h4v4h-4zM471 292h4v4h-4zM318 296h4v4h-4zM370 296h4v4h-4zM503 296h4v4h-4zM330 300h4v4h-4zM406 300h4v4h-4zM443 300h4v4h-4zM487 300h4v4h-4zM447 304h4v4h-4zM475 304h4v4h-4zM491 304h4v4h-4zM443 308h4v3h-4zM330 311h4v4h-4zM394 311h4v4h-4zM443 315h4v4h-4zM483 315h4v4h-4zM451 319h4v4h-4zM455 319h4v4h-4zM451 323h4v4h-4zM455 323h4v4h-4zM322 327h4v4h-4zM451 327h4v4h-4zM382 331h4v4h-4zM471 331h4v4h-4zM463 335h4v4h-4zM334 339h4v4h-4zM415 339h4v4h-4zM459 339h4v4h-4zM338 343h4v4h-4zM378 343h4v4h-4zM382 343h4v4h-4zM427 343h4v4h-4zM455 347h4v4h-4zM495 347h4v4h-4zM346 351h4v4h-4zM374 351h4v4h-4zM402 359h4v4h-4zM322 363h4v4h-4zM382 363h4v4h-4zM423 367h4v4h-4zM427 367h4v4h-4zM326 371h4v4h-4zM350 371h4v4h-4zM314 375h4v4h-4zM334 375h4v4h-4zM346 375h4v4h-4zM354 375h4v4h-4zM386 375h4v4h-4zM314 379h4v4h-4zM459 379h4v4h-4zM358 383h4v4h-4zM415 383h4v4h-4zM350 387h4v4h-4zM467 387h4v4h-4zM471 387h4v4h-4zM479 387h4v4h-4zM386 391h4v4h-4zM475 391h4v4h-4zM483 391h4v4h-4zM330 395h4v4h-4zM326 399h4v4h-4zM330 399h4v4h-4zM447 399h4v4h-4zM322 403h4v4h-4zM390 403h4v4h-4zM410 403h5v4h-5zM415 407h4v4h-4zM419 407h4v4h-4zM459 407h4v4h-4zM370 411h4v4h-4zM431 411h4v4h-4zM459 411h4v4h-4zM326 415h4v4h-4zM386 415h4v4h-4zM398 415h4v4h-4zM435 415h4v4h-4zM503 415h4v4h-4zM358 419h4v4h-4zM362 419h4v4h-4zM362 423h4v4h-4zM467 423h4v4h-4zM467 427h4v4h-4zM330 431h4v4h-4zM419 431h4v4h-4zM443 431h4v4h-4zM362 435h4v4h-4zM447 435h4v4h-4zM410 439h5v4h-5z"/>
<path fill="#909090" d="M439 264h4v4h-4zM378 268h4v4h-4zM382 268h4v4h-4zM443 268h4v4h-4zM334 272h4v4h-4zM398 272h4v4h-4zM427 272h4v4h-4zM435 272h4v4h-4zM443 272h4v4h-4zM394 276h4v4h-4zM398 276h4v4h-4zM439 276h4v4h-4zM463 276h4v4h-4zM503 276h4v4h-4zM330 280h4v4h-4zM350 280h4v4h-4zM410 280h5v4h-5zM463 280h4v4h-4zM346 284h4v4h-4zM362 284h4v4h-4zM459 284h4v4h-4zM503 284h4v4h-4zM342 288h4v4h-4zM398 288h4v4h-4zM479 288h4v4h-4zM314 292h4v4h-4zM322 292h4v4h-4zM350 292h4v4h-4zM394 292h4v4h-4zM398 292h4v4h-4zM402 292h4v4h-4zM423 292h4v4h-4zM443 292h4v4h-4zM350 296h4v4h-4zM394 296h4v4h-4zM406 296h4v4h-4zM410 296h5v4h-5zM475 296h4v4h-4zM322 300h4v4h-4zM350 300h4v4h-4zM366 300h4v4h-4zM370 300h4v4h-4zM503 300h4v4h-4zM402 304h4v4h-4zM423 304h4v4h-4zM439 304h4v4h-4zM330 308h4v3h-4zM451 308h4v3h-4zM467 308h4v3h-4zM318 311h4v4h-4zM326 311h4v4h-4zM362 311h4v4h-4zM402 311h4v4h-4zM455 311h4v4h-4zM483 311h4v4h-4zM415 315h4v4h-4zM427 315h4v4h-4zM459 315h4v4h-4zM427 319h4v4h-4zM475 319h4v4h-4zM479 319h4v4h-4zM386 323h4v4h-4zM487 323h4v4h-4zM390 327h4v4h-4zM318 331h4v4h-4zM410 331h5v4h-5zM475 331h4v4h-4zM338 335h4v4h-4zM415 335h4v4h-4zM467 335h4v4h-4zM330 339h4v4h-4zM346 339h4v4h-4zM350 339h4v4h-4zM358 339h4v4h-4zM386 339h4v4h-4zM491 339h4v4h-4zM342 343h4v4h-4zM471 343h4v4h-4zM475 343h4v4h-4zM318 347h4v4h-4zM326 347h4v4h-4zM382 347h4v4h-4zM447 347h4v4h-4zM491 347h4v4h-4zM322 351h4v4h-4zM467 351h4v4h-4zM374 355h4v4h-4zM487 355h4v4h-4zM419 359h4v4h-4zM415 363h4v4h-4zM427 363h4v4h-4zM326 367h4v4h-4zM406 367h4v4h-4zM431 367h4v4h-4zM330 371h4v4h-4zM370 371h4v4h-4zM398 371h4v4h-4zM467 371h4v4h-4zM499 371h4v4h-4zM318 375h4v4h-4zM402 375h4v4h-4zM406 375h4v4h-4zM410 375h5v4h-5zM463 375h4v4h-4zM495 375h4v4h-4zM499 375h4v4h-4zM342 379h4v4h-4zM342 383h4v4h-4zM410 383h5v4h-5zM423 383h4v4h-4zM431 383h4v4h-4zM479 383h4v4h-4zM483 383h4v4h-4zM322 387h4v4h-4zM410 387h5v4h-5zM419 387h4v4h-4zM483 387h4v4h-4zM503 387h4v4h-4zM314 391h4v4h-4zM370 391h4v4h-4zM402 391h4v4h-4zM415 391h4v4h-4zM451 391h4v4h-4zM318 395h4v4h-4zM386 395h4v4h-4zM451 395h4v4h-4zM479 395h4v4h-4zM346 399h4v4h-4zM386 399h4v4h-4zM390 399h4v4h-4zM406 399h4v4h-4zM419 399h4v4h-4zM487 399h4v4h-4zM499 399h4v4h-4zM342 403h4v4h-4zM394 403h4v4h-4zM455 407h4v4h-4zM491 407h4v4h-4zM334 411h4v4h-4zM366 411h4v4h-4zM398 411h4v4h-4zM415 411h4v4h-4zM419 411h4v4h-4zM467 411h4v4h-4zM491 411h4v4h-4zM459 415h4v4h-4zM495 415h4v4h-4zM318 419h4v4h-4zM382 419h4v4h-4zM451 419h4v4h-4zM459 419h4v4h-4zM463 419h4v4h-4zM475 419h4v4h-4zM495 419h4v4h-4zM402 431h4v4h-4zM406 431h4v4h-4zM370 435h4v4h-4zM415 435h4v4h-4zM431 435h4v4h-4zM451 435h4v4h-4zM503 435h4v4h-4zM443 439h4v4h-4zM455 439h4v4h-4z"/>
<path fill="#969696" d="M346 264h4v4h-4zM386 264h4v4h-4zM390 264h4v4h-4zM435 264h4v4h-4zM483 264h4v4h-4zM346 268h4v4h-4zM382 272h4v4h-4zM410 272h5v4h-5zM431 272h4v4h-4zM467 272h4v4h-4zM334 276h4v4h-4zM455 276h4v4h-4zM346 280h4v4h-4zM366 280h4v4h-4zM370 280h4v4h-4zM394 280h4v4h-4zM330 284h4v4h-4zM334 284h4v4h-4zM390 284h4v4h-4zM467 284h4v4h-4zM499 284h4v4h-4zM330 288h4v4h-4zM346 288h4v4h-4zM447 288h4v4h-4zM330 292h4v4h-4zM346 292h4v4h-4zM475 292h4v4h-4zM479 292h4v4h-4zM483 292h4v4h-4zM326 296h4v4h-4zM398 296h4v4h-4zM415 296h4v4h-4zM439 296h4v4h-4zM459 296h4v4h-4zM483 296h4v4h-4zM487 296h4v4h-4zM326 300h4v4h-4zM334 300h4v4h-4zM390 300h4v4h-4zM471 300h4v4h-4zM326 304h4v4h-4zM342 304h4v4h-4zM374 304h4v4h-4zM394 304h4v4h-4zM427 304h4v4h-4zM463 304h4v4h-4zM467 304h4v4h-4zM471 304h4v4h-4zM487 304h4v4h-4zM406 308h4v3h-4zM455 308h4v3h-4zM479 308h4v3h-4zM322 311h4v4h-4zM334 311h4v4h-4zM338 311h4v4h-4zM374 311h4v4h-4zM419 311h4v4h-4zM423 311h4v4h-4zM447 311h4v4h-4zM471 311h4v4h-4zM499 311h4v4h-4zM394 315h4v4h-4zM398 315h4v4h-4zM475 315h4v4h-4zM503 315h4v4h-4zM346 319h4v4h-4zM394 319h4v4h-4zM483 319h4v4h-4zM499 319h4v4h-4zM322 323h4v4h-4zM346 323h4v4h-4zM358 323h4v4h-4zM406 323h4v4h-4zM427 323h4v4h-4zM342 327h4v4h-4zM410 327h5v4h-5zM447 327h4v4h-4zM467 327h4v4h-4zM366 331h4v4h-4zM394 331h4v4h-4zM415 331h4v4h-4zM479 331h4v4h-4zM350 335h4v4h-4zM398 335h4v4h-4zM406 335h4v4h-4zM471 335h4v4h-4zM475 335h4v4h-4zM382 339h4v4h-4zM314 343h4v4h-4zM318 343h4v4h-4zM390 343h4v4h-4zM415 343h4v4h-4zM459 343h4v4h-4zM479 343h4v4h-4zM487 343h4v4h-4zM338 347h4v4h-4zM374 347h4v4h-4zM386 347h4v4h-4zM463 347h4v4h-4zM475 347h4v4h-4zM479 347h4v4h-4zM326 351h4v4h-4zM330 351h4v4h-4zM386 351h4v4h-4zM406 351h4v4h-4zM463 351h4v4h-4zM370 355h4v4h-4zM382 355h4v4h-4zM431 355h4v4h-4zM463 355h4v4h-4zM354 359h4v4h-4zM370 359h4v4h-4zM390 359h4v4h-4zM398 359h4v4h-4zM423 359h4v4h-4zM314 363h4v4h-4zM354 363h4v4h-4zM386 363h4v4h-4zM431 363h4v4h-4zM435 363h4v4h-4zM318 367h4v4h-4zM322 367h4v4h-4zM350 367h4v4h-4zM354 367h4v4h-4zM419 367h4v4h-4zM338 371h4v4h-4zM390 371h4v4h-4zM406 371h4v4h-4zM410 371h5v4h-5zM338 375h4v4h-4zM342 375h4v4h-4zM366 375h4v4h-4zM370 375h4v4h-4zM419 375h4v4h-4zM338 379h4v4h-4zM358 379h4v4h-4zM366 379h4v4h-4zM370 379h4v4h-4zM382 379h4v4h-4zM402 379h4v4h-4zM431 379h4v4h-4zM455 379h4v4h-4zM491 379h4v4h-4zM318 383h4v4h-4zM406 383h4v4h-4zM439 383h4v4h-4zM495 383h4v4h-4zM334 387h4v4h-4zM406 387h4v4h-4zM435 387h4v4h-4zM439 387h4v4h-4zM463 387h4v4h-4zM330 391h4v4h-4zM342 391h4v4h-4zM427 391h4v4h-4zM487 391h4v4h-4zM382 395h4v4h-4zM394 395h4v4h-4zM410 395h5v4h-5zM491 395h4v4h-4zM495 395h4v4h-4zM423 399h4v4h-4zM467 399h4v4h-4zM491 399h4v4h-4zM495 399h4v4h-4zM447 403h4v4h-4zM487 403h4v4h-4zM499 403h4v4h-4zM318 407h4v4h-4zM330 407h4v4h-4zM495 407h4v4h-4zM503 407h4v4h-4zM350 411h4v4h-4zM358 411h4v4h-4zM471 411h4v4h-4zM495 411h4v4h-4zM390 415h4v4h-4zM431 415h4v4h-4zM447 415h4v4h-4zM378 419h4v4h-4zM398 419h4v4h-4zM402 419h4v4h-4zM431 419h4v4h-4zM439 419h4v4h-4zM479 419h4v4h-4zM499 419h4v4h-4zM314 423h4v4h-4zM366 423h4v4h-4zM370 423h4v4h-4zM394 423h4v4h-4zM451 423h4v4h-4zM471 423h4v4h-4zM503 423h4v4h-4zM318 427h4v4h-4zM334 427h4v4h-4zM362 427h4v4h-4zM427 427h4v4h-4zM431 427h4v4h-4zM439 427h4v4h-4zM447 427h4v4h-4zM463 427h4v4h-4zM471 427h4v4h-4zM475 427h4v4h-4zM342 431h4v4h-4zM362 431h4v4h-4zM447 431h4v4h-4zM471 431h4v4h-4zM479 431h4v4h-4zM483 431h4v4h-4zM471 435h4v4h-4zM398 439h4v4h-4z"/>
<path fill="#9c9c9c" d="M322 264h4v4h-4zM330 264h4v4h-4zM382 264h4v4h-4zM330 268h4v4h-4zM415 268h4v4h-4zM495 268h4v4h-4zM318 272h4v4h-4zM354 272h4v4h-4zM503 272h4v4h-4zM431 276h4v4h-4zM495 276h4v4h-4zM322 280h4v4h-4zM326 280h4v4h-4zM374 280h4v4h-4zM390 280h4v4h-4zM406 280h4v4h-4zM475 280h4v4h-4zM487 280h4v4h-4zM495 280h4v4h-4zM366 284h4v4h-4zM410 284h5v4h-5zM455 284h4v4h-4zM358 288h4v4h-4zM370 288h4v4h-4zM402 288h4v4h-4zM423 288h4v4h-4zM427 288h4v4h-4zM439 288h4v4h-4zM483 288h4v4h-4zM487 288h4v4h-4zM334 292h4v4h-4zM338 296h4v4h-4zM451 296h4v4h-4zM463 296h4v4h-4zM471 296h4v4h-4zM479 296h4v4h-4zM398 300h4v4h-4zM410 300h5v4h-5zM435 300h4v4h-4zM322 304h4v4h-4zM443 304h4v4h-4zM455 304h4v4h-4zM318 308h4v3h-4zM338 308h4v3h-4zM354 308h4v3h-4zM378 308h4v3h-4zM402 308h4v3h-4zM423 308h4v3h-4zM495 308h4v3h-4zM358 311h4v4h-4zM410 311h5v4h-5zM314 315h4v4h-4zM330 315h4v4h-4zM338 315h4v4h-4zM378 315h4v4h-4zM423 315h4v4h-4zM479 315h4v4h-4zM354 319h4v4h-4zM362 319h4v4h-4zM390 319h4v4h-4zM431 319h4v4h-4zM443 319h4v4h-4zM487 319h4v4h-4zM495 319h4v4h-4zM402 323h4v4h-4zM435 323h4v4h-4zM443 323h4v4h-4zM447 323h4v4h-4zM495 323h4v4h-4zM338 327h4v4h-4zM346 327h4v4h-4zM362 327h4v4h-4zM427 327h4v4h-4zM435 327h4v4h-4zM503 327h4v4h-4zM354 331h4v4h-4zM439 331h4v4h-4zM455 331h4v4h-4zM459 331h4v4h-4zM322 335h4v4h-4zM370 335h4v4h-4zM374 335h4v4h-4zM378 335h4v4h-4zM402 335h4v4h-4zM455 335h4v4h-4zM459 335h4v4h-4zM483 335h4v4h-4zM374 339h4v4h-4zM394 339h4v4h-4zM398 339h4v4h-4zM402 339h4v4h-4zM431 339h4v4h-4zM350 343h4v4h-4zM354 343h4v4h-4zM386 343h4v4h-4zM410 343h5v4h-5zM491 343h4v4h-4zM390 347h4v4h-4zM467 347h4v4h-4zM503 347h4v4h-4zM431 351h4v4h-4zM443 351h4v4h-4zM330 355h4v4h-4zM459 355h4v4h-4zM475 355h4v4h-4zM483 355h4v4h-4zM495 355h4v4h-4zM406 359h4v4h-4zM455 359h4v4h-4zM471 359h4v4h-4zM491 359h4v4h-4zM318 363h4v4h-4zM358 363h4v4h-4zM394 363h4v4h-4zM423 363h4v4h-4zM439 363h4v4h-4zM471 363h4v4h-4zM495 363h4v4h-4zM378 367h4v4h-4zM499 367h4v4h-4zM314 371h4v4h-4zM366 371h4v4h-4zM378 371h4v4h-4zM402 371h4v4h-4zM423 371h4v4h-4zM431 371h4v4h-4zM483 371h4v4h-4zM503 371h4v4h-4zM398 375h4v4h-4zM346 379h4v4h-4zM350 379h4v4h-4zM354 379h4v4h-4zM443 379h4v4h-4zM463 379h4v4h-4zM346 383h4v4h-4zM394 383h4v4h-4zM419 383h4v4h-4zM463 383h4v4h-4zM467 383h4v4h-4zM314 387h4v4h-4zM370 387h4v4h-4zM374 387h4v4h-4zM415 387h4v4h-4zM459 387h4v4h-4zM475 387h4v4h-4zM487 387h4v4h-4zM495 387h4v4h-4zM499 387h4v4h-4zM322 391h4v4h-4zM431 391h4v4h-4zM354 395h4v4h-4zM406 395h4v4h-4zM427 395h4v4h-4zM455 395h4v4h-4zM394 399h4v4h-4zM479 399h4v4h-4zM483 399h4v4h-4zM451 403h4v4h-4zM491 403h4v4h-4zM495 403h4v4h-4zM326 407h4v4h-4zM338 407h4v4h-4zM350 407h4v4h-4zM406 407h4v4h-4zM467 407h4v4h-4zM362 411h4v4h-4zM386 411h4v4h-4zM330 415h4v4h-4zM358 415h4v4h-4zM382 415h4v4h-4zM419 415h4v4h-4zM386 419h4v4h-4zM394 419h4v4h-4zM415 419h4v4h-4zM467 419h4v4h-4zM471 419h4v4h-4zM503 419h4v4h-4zM354 423h4v4h-4zM378 423h4v4h-4zM382 423h4v4h-4zM398 423h4v4h-4zM406 423h4v4h-4zM330 427h4v4h-4zM338 427h4v4h-4zM366 427h4v4h-4zM370 427h4v4h-4zM374 427h4v4h-4zM398 427h4v4h-4zM402 427h4v4h-4zM435 427h4v4h-4zM455 427h4v4h-4zM483 427h4v4h-4zM314 431h4v4h-4zM346 431h4v4h-4zM350 431h4v4h-4zM354 431h4v4h-4zM370 431h4v4h-4zM475 431h4v4h-4zM350 435h4v4h-4zM398 435h4v4h-4zM439 435h4v4h-4zM499 435h4v4h-4zM338 439h4v4h-4zM346 439h4v4h-4zM431 439h4v4h-4zM451 439h4v4h-4zM459 439h4v4h-4zM483 439h4v4h-4z"/>
<path fill="#a2a2a2" d="M362 264h4v4h-4zM394 264h4v4h-4zM487 264h4v4h-4zM334 268h4v4h-4zM350 268h4v4h-4zM419 268h4v4h-4zM435 268h4v4h-4zM447 268h4v4h-4zM471 268h4v4h-4zM475 268h4v4h-4zM487 268h4v4h-4zM322 272h4v4h-4zM330 272h4v4h-4zM459 272h4v4h-4zM463 272h4v4h-4zM471 272h4v4h-4zM366 276h4v4h-4zM390 276h4v4h-4zM402 276h4v4h-4zM475 276h4v4h-4zM479 276h4v4h-4zM318 280h4v4h-4zM342 280h4v4h-4zM358 280h4v4h-4zM386 280h4v4h-4zM398 280h4v4h-4zM443 280h4v4h-4zM483 280h4v4h-4zM491 280h4v4h-4zM322 284h4v4h-4zM370 284h4v4h-4zM374 284h4v4h-4zM378 284h4v4h-4zM386 284h4v4h-4zM427 284h4v4h-4zM447 284h4v4h-4zM471 284h4v4h-4zM350 288h4v4h-4zM354 288h4v4h-4zM419 288h4v4h-4zM471 288h4v4h-4zM495 288h4v4h-4zM499 288h4v4h-4zM370 292h4v4h-4zM467 292h4v4h-4zM503 292h4v4h-4zM322 296h4v4h-4zM342 296h4v4h-4zM346 296h4v4h-4zM419 296h4v4h-4zM427 296h4v4h-4zM431 296h4v4h-4zM499 296h4v4h-4zM318 300h4v4h-4zM338 300h4v4h-4zM346 300h4v4h-4zM374 300h4v4h-4zM394 300h4v4h-4zM419 300h4v4h-4zM475 300h4v4h-4zM483 300h4v4h-4zM491 300h4v4h-4zM330 304h4v4h-4zM354 304h4v4h-4zM386 304h4v4h-4zM398 304h4v4h-4zM410 304h5v4h-5zM415 304h4v4h-4zM419 304h4v4h-4zM431 304h4v4h-4zM334 308h4v3h-4zM374 308h4v3h-4zM382 308h4v3h-4zM386 308h4v3h-4zM447 308h4v3h-4zM487 308h4v3h-4zM314 311h4v4h-4zM382 311h4v4h-4zM390 311h4v4h-4zM435 311h4v4h-4zM439 311h4v4h-4zM479 311h4v4h-4zM495 311h4v4h-4zM322 315h4v4h-4zM350 315h4v4h-4zM374 315h4v4h-4zM419 315h4v4h-4zM487 315h4v4h-4zM495 315h4v4h-4zM318 319h4v4h-4zM350 319h4v4h-4zM415 319h4v4h-4zM334 323h4v4h-4zM431 323h4v4h-4zM471 323h4v4h-4zM314 327h4v4h-4zM334 327h4v4h-4zM354 327h4v4h-4zM358 327h4v4h-4zM366 327h4v4h-4zM370 327h4v4h-4zM374 327h4v4h-4zM382 327h4v4h-4zM406 327h4v4h-4zM423 327h4v4h-4zM439 327h4v4h-4zM487 327h4v4h-4zM326 331h4v4h-4zM350 331h4v4h-4zM487 331h4v4h-4zM334 335h4v4h-4zM382 335h4v4h-4zM394 335h4v4h-4zM447 335h4v4h-4zM491 335h4v4h-4zM495 335h4v4h-4zM503 335h4v4h-4zM354 339h4v4h-4zM479 339h4v4h-4zM326 343h4v4h-4zM455 343h4v4h-4zM503 343h4v4h-4zM342 347h4v4h-4zM354 347h4v4h-4zM378 347h4v4h-4zM394 347h4v4h-4zM419 347h4v4h-4zM314 351h4v4h-4zM318 351h4v4h-4zM435 351h4v4h-4zM459 351h4v4h-4zM471 351h4v4h-4zM318 355h4v4h-4zM346 355h4v4h-4zM378 355h4v4h-4zM406 355h4v4h-4zM415 355h4v4h-4zM419 355h4v4h-4zM334 359h4v4h-4zM358 359h4v4h-4zM366 359h4v4h-4zM431 359h4v4h-4zM435 359h4v4h-4zM439 359h4v4h-4zM467 359h4v4h-4zM487 359h4v4h-4zM495 359h4v4h-4zM406 363h4v4h-4zM455 363h4v4h-4zM358 367h4v4h-4zM382 367h4v4h-4zM439 367h4v4h-4zM451 367h4v4h-4zM495 367h4v4h-4zM322 371h4v4h-4zM346 371h4v4h-4zM358 371h4v4h-4zM394 371h4v4h-4zM435 371h4v4h-4zM394 375h4v4h-4zM439 375h4v4h-4zM459 375h4v4h-4zM467 375h4v4h-4zM471 375h4v4h-4zM487 375h4v4h-4zM322 379h4v4h-4zM362 379h4v4h-4zM374 379h4v4h-4zM406 379h4v4h-4zM410 379h5v4h-5zM435 379h4v4h-4zM487 379h4v4h-4zM386 383h4v4h-4zM390 383h4v4h-4zM402 383h4v4h-4zM459 383h4v4h-4zM471 383h4v4h-4zM366 387h4v4h-4zM386 387h4v4h-4zM402 387h4v4h-4zM455 387h4v4h-4zM491 387h4v4h-4zM326 391h4v4h-4zM334 391h4v4h-4zM358 391h4v4h-4zM378 391h4v4h-4zM390 391h4v4h-4zM406 391h4v4h-4zM479 391h4v4h-4zM491 391h4v4h-4zM314 395h4v4h-4zM342 395h4v4h-4zM366 395h4v4h-4zM370 395h4v4h-4zM374 395h4v4h-4zM431 395h4v4h-4zM447 395h4v4h-4zM483 395h4v4h-4zM318 399h4v4h-4zM374 399h4v4h-4zM382 399h4v4h-4zM402 399h4v4h-4zM455 399h4v4h-4zM459 399h4v4h-4zM406 403h4v4h-4zM463 403h4v4h-4zM483 403h4v4h-4zM503 403h4v4h-4zM322 407h4v4h-4zM334 407h4v4h-4zM346 407h4v4h-4zM366 407h4v4h-4zM390 407h4v4h-4zM447 407h4v4h-4zM487 407h4v4h-4zM338 411h4v4h-4zM382 411h4v4h-4zM423 411h4v4h-4zM435 411h4v4h-4zM455 411h4v4h-4zM503 411h4v4h-4zM334 415h4v4h-4zM346 415h4v4h-4zM354 415h4v4h-4zM374 415h4v4h-4zM378 415h4v4h-4zM415 415h4v4h-4zM443 415h4v4h-4zM463 415h4v4h-4zM475 415h4v4h-4zM491 415h4v4h-4zM499 415h4v4h-4zM322 423h4v4h-4zM330 423h4v4h-4zM431 423h4v4h-4zM439 423h4v4h-4zM447 423h4v4h-4zM491 423h4v4h-4zM358 427h4v4h-4zM394 427h4v4h-4zM443 427h4v4h-4zM459 427h4v4h-4zM503 427h4v4h-4zM390 431h4v4h-4zM394 431h4v4h-4zM415 431h4v4h-4zM423 431h4v4h-4zM427 431h4v4h-4zM431 431h4v4h-4zM358 435h4v4h-4zM366 435h4v4h-4zM467 435h4v4h-4zM475 435h4v4h-4zM483 435h4v4h-4zM350 439h4v4h-4zM374 439h4v4h-4zM382 439h4v4h-4zM402 439h4v4h-4zM406 439h4v4h-4zM415 439h4v4h-4zM419 439h4v4h-4zM423 439h4v4h-4zM447 439h4v4h-4zM499 439h4v4h-4zM503 439h4v4h-4z"/>
<path fill="#a8a8a8" d="M326 264h4v4h-4zM342 264h4v4h-4zM447 264h4v4h-4zM459 264h4v4h-4zM491 264h4v4h-4zM322 268h4v4h-4zM358 268h4v4h-4zM386 268h4v4h-4zM451 268h4v4h-4zM479 268h4v4h-4zM491 268h4v4h-4zM374 272h4v4h-4zM390 272h4v4h-4zM499 272h4v4h-4zM326 276h4v4h-4zM330 276h4v4h-4zM342 276h4v4h-4zM374 276h4v4h-4zM382 276h4v4h-4zM415 276h4v4h-4zM435 276h4v4h-4zM443 276h4v4h-4zM483 276h4v4h-4zM491 276h4v4h-4zM431 280h4v4h-4zM435 280h4v4h-4zM350 284h4v4h-4zM354 284h4v4h-4zM398 284h4v4h-4zM402 284h4v4h-4zM415 284h4v4h-4zM435 284h4v4h-4zM487 284h4v4h-4zM314 288h4v4h-4zM318 288h4v4h-4zM322 288h4v4h-4zM362 288h4v4h-4zM374 288h4v4h-4zM431 288h4v4h-4zM503 288h4v4h-4zM342 292h4v4h-4zM374 292h4v4h-4zM419 292h4v4h-4zM435 292h4v4h-4zM451 292h4v4h-4zM463 292h4v4h-4zM487 292h4v4h-4zM330 296h4v4h-4zM366 296h4v4h-4zM374 296h4v4h-4zM386 296h4v4h-4zM447 296h4v4h-4zM358 300h4v4h-4zM386 300h4v4h-4zM427 300h4v4h-4zM431 300h4v4h-4zM463 300h4v4h-4zM495 300h4v4h-4zM318 304h4v4h-4zM350 304h4v4h-4zM362 304h4v4h-4zM435 304h4v4h-4zM459 304h4v4h-4zM483 304h4v4h-4zM358 308h4v3h-4zM366 308h4v3h-4zM415 308h4v3h-4zM439 308h4v3h-4zM459 308h4v3h-4zM366 311h4v4h-4zM415 311h4v4h-4zM326 315h4v4h-4zM410 315h5v4h-5zM435 315h4v4h-4zM447 315h4v4h-4zM467 315h4v4h-4zM342 319h4v4h-4zM398 319h4v4h-4zM423 319h4v4h-4zM459 319h4v4h-4zM471 319h4v4h-4zM318 323h4v4h-4zM394 323h4v4h-4zM398 323h4v4h-4zM419 323h4v4h-4zM423 323h4v4h-4zM459 323h4v4h-4zM483 323h4v4h-4zM318 327h4v4h-4zM330 327h4v4h-4zM398 327h4v4h-4zM419 327h4v4h-4zM431 327h4v4h-4zM443 327h4v4h-4zM455 327h4v4h-4zM475 327h4v4h-4zM491 327h4v4h-4zM499 327h4v4h-4zM330 331h4v4h-4zM362 331h4v4h-4zM386 331h4v4h-4zM435 331h4v4h-4zM467 331h4v4h-4zM358 335h4v4h-4zM386 335h4v4h-4zM451 335h4v4h-4zM479 335h4v4h-4zM322 339h4v4h-4zM338 339h4v4h-4zM366 339h4v4h-4zM390 339h4v4h-4zM406 339h4v4h-4zM410 339h5v4h-5zM419 339h4v4h-4zM435 339h4v4h-4zM475 339h4v4h-4zM322 343h4v4h-4zM346 343h4v4h-4zM402 343h4v4h-4zM419 343h4v4h-4zM451 343h4v4h-4zM495 343h4v4h-4zM410 347h5v4h-5zM415 347h4v4h-4zM443 347h4v4h-4zM451 347h4v4h-4zM487 347h4v4h-4zM499 347h4v4h-4zM338 351h4v4h-4zM342 351h4v4h-4zM350 351h4v4h-4zM370 351h4v4h-4zM402 351h4v4h-4zM415 351h4v4h-4zM491 351h4v4h-4zM338 355h4v4h-4zM386 355h4v4h-4zM398 355h4v4h-4zM427 355h4v4h-4zM455 355h4v4h-4zM318 359h4v4h-4zM346 359h4v4h-4zM350 359h4v4h-4zM374 359h4v4h-4zM378 359h4v4h-4zM382 359h4v4h-4zM463 359h4v4h-4zM483 359h4v4h-4zM503 359h4v4h-4zM342 363h4v4h-4zM350 363h4v4h-4zM366 363h4v4h-4zM378 363h4v4h-4zM487 363h4v4h-4zM491 363h4v4h-4zM330 367h4v4h-4zM346 367h4v4h-4zM435 367h4v4h-4zM459 367h4v4h-4zM471 367h4v4h-4zM483 367h4v4h-4zM427 371h4v4h-4zM463 371h4v4h-4zM487 371h4v4h-4zM495 371h4v4h-4zM374 375h4v4h-4zM378 375h4v4h-4zM435 375h4v4h-4zM455 375h4v4h-4zM479 375h4v4h-4zM318 379h4v4h-4zM334 379h4v4h-4zM386 379h4v4h-4zM390 379h4v4h-4zM394 379h4v4h-4zM398 379h4v4h-4zM419 379h4v4h-4zM483 379h4v4h-4zM499 379h4v4h-4zM338 383h4v4h-4zM350 383h4v4h-4zM398 383h4v4h-4zM451 383h4v4h-4zM487 383h4v4h-4zM491 383h4v4h-4zM390 387h4v4h-4zM382 391h4v4h-4zM394 391h4v4h-4zM419 391h4v4h-4zM423 391h4v4h-4zM455 391h4v4h-4zM499 391h4v4h-4zM398 395h4v4h-4zM402 395h4v4h-4zM415 395h4v4h-4zM419 395h4v4h-4zM475 395h4v4h-4zM342 399h4v4h-4zM350 399h4v4h-4zM358 399h4v4h-4zM410 399h5v4h-5zM427 399h4v4h-4zM475 399h4v4h-4zM378 403h4v4h-4zM398 403h4v4h-4zM479 403h4v4h-4zM382 407h4v4h-4zM394 407h4v4h-4zM402 407h4v4h-4zM330 411h4v4h-4zM342 411h4v4h-4zM406 411h4v4h-4zM463 411h4v4h-4zM338 415h4v4h-4zM350 415h4v4h-4zM402 415h4v4h-4zM314 419h4v4h-4zM370 419h4v4h-4zM374 419h4v4h-4zM406 419h4v4h-4zM419 419h4v4h-4zM443 419h4v4h-4zM318 423h4v4h-4zM390 423h4v4h-4zM402 423h4v4h-4zM410 423h5v4h-5zM415 423h4v4h-4zM342 427h4v4h-4zM378 427h4v4h-4zM386 427h4v4h-4zM390 427h4v4h-4zM410 427h5v4h-5zM419 427h4v4h-4zM451 427h4v4h-4zM322 431h4v4h-4zM338 431h4v4h-4zM358 431h4v4h-4zM410 431h5v4h-5zM439 431h4v4h-4zM451 431h4v4h-4zM459 431h4v4h-4zM463 431h4v4h-4zM314 435h4v4h-4zM342 435h4v4h-4zM346 435h4v4h-4zM382 435h4v4h-4zM419 435h4v4h-4zM423 435h4v4h-4zM443 435h4v4h-4zM479 435h4v4h-4zM354 439h4v4h-4zM358 439h4v4h-4zM378 439h4v4h-4zM386 439h4v4h-4zM427 439h4v4h-4zM475 439h4v4h-4z"/>
<path fill="#aeaeae" d="M314 264h4v4h-4zM350 264h4v4h-4zM378 264h4v4h-4zM423 264h4v4h-4zM471 264h4v4h-4zM479 264h4v4h-4zM354 268h4v4h-4zM394 268h4v4h-4zM398 268h4v4h-4zM459 268h4v4h-4zM467 268h4v4h-4zM346 272h4v4h-4zM419 272h4v4h-4zM423 272h4v4h-4zM346 276h4v4h-4zM350 276h4v4h-4zM362 276h4v4h-4zM410 276h5v4h-5zM487 276h4v4h-4zM314 280h4v4h-4zM334 280h4v4h-4zM338 280h4v4h-4zM378 280h4v4h-4zM402 280h4v4h-4zM427 280h4v4h-4zM342 284h4v4h-4zM382 284h4v4h-4zM423 284h4v4h-4zM431 284h4v4h-4zM439 284h4v4h-4zM463 284h4v4h-4zM326 288h4v4h-4zM406 288h4v4h-4zM435 288h4v4h-4zM475 288h4v4h-4zM318 292h4v4h-4zM326 292h4v4h-4zM390 292h4v4h-4zM415 292h4v4h-4zM431 292h4v4h-4zM455 292h4v4h-4zM382 296h4v4h-4zM362 300h4v4h-4zM467 300h4v4h-4zM334 304h4v4h-4zM378 304h4v4h-4zM451 304h4v4h-4zM503 304h4v4h-4zM314 308h4v3h-4zM342 308h4v3h-4zM362 308h4v3h-4zM394 308h4v3h-4zM419 308h4v3h-4zM431 308h4v3h-4zM435 308h4v3h-4zM463 308h4v3h-4zM354 311h4v4h-4zM386 311h4v4h-4zM451 311h4v4h-4zM459 311h4v4h-4zM463 311h4v4h-4zM487 311h4v4h-4zM342 315h4v4h-4zM346 315h4v4h-4zM358 315h4v4h-4zM362 315h4v4h-4zM455 315h4v4h-4zM330 319h4v4h-4zM382 319h4v4h-4zM326 323h4v4h-4zM342 323h4v4h-4zM378 323h4v4h-4zM410 323h5v4h-5zM439 323h4v4h-4zM491 323h4v4h-4zM386 327h4v4h-4zM471 327h4v4h-4zM483 327h4v4h-4zM346 331h4v4h-4zM378 331h4v4h-4zM406 331h4v4h-4zM447 331h4v4h-4zM463 331h4v4h-4zM366 335h4v4h-4zM427 335h4v4h-4zM439 335h4v4h-4zM443 335h4v4h-4zM370 339h4v4h-4zM439 339h4v4h-4zM447 339h4v4h-4zM451 339h4v4h-4zM330 343h4v4h-4zM314 347h4v4h-4zM358 347h4v4h-4zM423 347h4v4h-4zM390 351h4v4h-4zM410 351h5v4h-5zM439 351h4v4h-4zM447 351h4v4h-4zM451 351h4v4h-4zM487 351h4v4h-4zM322 355h4v4h-4zM326 355h4v4h-4zM354 355h4v4h-4zM362 355h4v4h-4zM366 355h4v4h-4zM435 355h4v4h-4zM443 355h4v4h-4zM503 355h4v4h-4zM322 359h4v4h-4zM326 359h4v4h-4zM362 359h4v4h-4zM410 359h5v4h-5zM415 359h4v4h-4zM475 359h4v4h-4zM326 363h4v4h-4zM334 363h4v4h-4zM370 363h4v4h-4zM463 363h4v4h-4zM467 363h4v4h-4zM338 367h4v4h-4zM370 367h4v4h-4zM394 367h4v4h-4zM455 367h4v4h-4zM382 371h4v4h-4zM415 371h4v4h-4zM479 371h4v4h-4zM350 375h4v4h-4zM362 375h4v4h-4zM390 375h4v4h-4zM431 375h4v4h-4zM451 375h4v4h-4zM503 375h4v4h-4zM326 379h4v4h-4zM330 379h4v4h-4zM439 379h4v4h-4zM495 379h4v4h-4zM503 379h4v4h-4zM314 383h4v4h-4zM330 383h4v4h-4zM334 383h4v4h-4zM366 383h4v4h-4zM374 383h4v4h-4zM378 383h4v4h-4zM435 383h4v4h-4zM455 383h4v4h-4zM358 387h4v4h-4zM398 387h4v4h-4zM431 387h4v4h-4zM443 387h4v4h-4zM362 391h4v4h-4zM447 391h4v4h-4zM322 395h4v4h-4zM443 395h4v4h-4zM503 395h4v4h-4zM338 399h4v4h-4zM354 399h4v4h-4zM362 399h4v4h-4zM370 399h4v4h-4zM398 399h4v4h-4zM415 399h4v4h-4zM443 399h4v4h-4zM451 399h4v4h-4zM314 403h4v4h-4zM334 403h4v4h-4zM338 403h4v4h-4zM346 403h4v4h-4zM362 403h4v4h-4zM366 403h4v4h-4zM374 403h4v4h-4zM415 403h4v4h-4zM419 403h4v4h-4zM435 403h4v4h-4zM443 403h4v4h-4zM370 407h4v4h-4zM398 407h4v4h-4zM475 407h4v4h-4zM479 407h4v4h-4zM499 407h4v4h-4zM346 411h4v4h-4zM354 411h4v4h-4zM378 411h4v4h-4zM410 411h5v4h-5zM443 411h4v4h-4zM447 411h4v4h-4zM451 411h4v4h-4zM487 411h4v4h-4zM410 415h5v4h-5zM439 415h4v4h-4zM467 415h4v4h-4zM487 415h4v4h-4zM350 419h4v4h-4zM390 419h4v4h-4zM435 419h4v4h-4zM455 419h4v4h-4zM491 419h4v4h-4zM334 423h4v4h-4zM342 423h4v4h-4zM346 423h4v4h-4zM435 423h4v4h-4zM443 423h4v4h-4zM487 423h4v4h-4zM491 427h4v4h-4zM374 431h4v4h-4zM398 431h4v4h-4zM499 431h4v4h-4zM503 431h4v4h-4zM318 435h4v4h-4zM326 435h4v4h-4zM334 435h4v4h-4zM354 435h4v4h-4zM386 435h4v4h-4zM402 435h4v4h-4zM459 435h4v4h-4zM322 439h4v4h-4zM370 439h4v4h-4zM463 439h4v4h-4zM479 439h4v4h-4z"/>
<path fill="#b4b4b4" d="M366 264h4v4h-4zM374 264h4v4h-4zM419 264h4v4h-4zM475 264h4v4h-4zM503 264h4v4h-4zM314 268h4v4h-4zM338 268h4v4h-4zM431 268h4v4h-4zM455 268h4v4h-4zM483 268h4v4h-4zM483 272h4v4h-4zM491 272h4v4h-4zM378 276h4v4h-4zM406 276h4v4h-4zM447 276h4v4h-4zM382 280h4v4h-4zM451 280h4v4h-4zM479 280h4v4h-4zM479 284h4v4h-4zM338 288h4v4h-4zM386 288h4v4h-4zM390 288h4v4h-4zM415 288h4v4h-4zM451 288h4v4h-4zM467 288h4v4h-4zM382 292h4v4h-4zM410 292h5v4h-5zM459 292h4v4h-4zM491 292h4v4h-4zM495 296h4v4h-4zM382 300h4v4h-4zM415 300h4v4h-4zM451 300h4v4h-4zM455 300h4v4h-4zM459 300h4v4h-4zM479 300h4v4h-4zM499 300h4v4h-4zM370 304h4v4h-4zM382 304h4v4h-4zM390 308h4v3h-4zM410 308h5v3h-5zM342 311h4v4h-4zM370 311h4v4h-4zM378 311h4v4h-4zM406 311h4v4h-4zM427 311h4v4h-4zM443 311h4v4h-4zM467 311h4v4h-4zM382 315h4v4h-4zM431 315h4v4h-4zM439 315h4v4h-4zM491 315h4v4h-4zM314 319h4v4h-4zM374 319h4v4h-4zM378 319h4v4h-4zM402 319h4v4h-4zM439 319h4v4h-4zM503 319h4v4h-4zM314 323h4v4h-4zM330 323h4v4h-4zM338 323h4v4h-4zM362 323h4v4h-4zM390 323h4v4h-4zM475 323h4v4h-4zM479 323h4v4h-4zM503 323h4v4h-4zM326 327h4v4h-4zM394 327h4v4h-4zM402 327h4v4h-4zM459 327h4v4h-4zM479 327h4v4h-4zM322 331h4v4h-4zM338 331h4v4h-4zM370 331h4v4h-4zM374 331h4v4h-4zM390 331h4v4h-4zM398 331h4v4h-4zM346 335h4v4h-4zM419 335h4v4h-4zM423 335h4v4h-4zM431 335h4v4h-4zM427 339h4v4h-4zM483 339h4v4h-4zM503 339h4v4h-4zM362 343h4v4h-4zM366 343h4v4h-4zM398 343h4v4h-4zM406 343h4v4h-4zM431 343h4v4h-4zM447 343h4v4h-4zM463 343h4v4h-4zM499 343h4v4h-4zM330 347h4v4h-4zM334 347h4v4h-4zM346 347h4v4h-4zM398 347h4v4h-4zM406 347h4v4h-4zM439 347h4v4h-4zM483 347h4v4h-4zM358 351h4v4h-4zM366 351h4v4h-4zM427 351h4v4h-4zM455 351h4v4h-4zM495 351h4v4h-4zM503 351h4v4h-4zM314 355h4v4h-4zM342 355h4v4h-4zM410 355h5v4h-5zM451 355h4v4h-4zM467 355h4v4h-4zM471 355h4v4h-4zM491 355h4v4h-4zM330 359h4v4h-4zM386 359h4v4h-4zM479 359h4v4h-4zM499 359h4v4h-4zM330 363h4v4h-4zM346 363h4v4h-4zM362 363h4v4h-4zM451 363h4v4h-4zM475 363h4v4h-4zM499 363h4v4h-4zM334 367h4v4h-4zM362 367h4v4h-4zM390 367h4v4h-4zM410 367h5v4h-5zM467 367h4v4h-4zM487 367h4v4h-4zM491 367h4v4h-4zM342 371h4v4h-4zM386 371h4v4h-4zM439 371h4v4h-4zM443 371h4v4h-4zM455 371h4v4h-4zM459 371h4v4h-4zM326 375h4v4h-4zM358 375h4v4h-4zM427 375h4v4h-4zM475 375h4v4h-4zM491 375h4v4h-4zM423 379h4v4h-4zM451 379h4v4h-4zM322 383h4v4h-4zM362 383h4v4h-4zM443 383h4v4h-4zM499 383h4v4h-4zM326 387h4v4h-4zM338 387h4v4h-4zM354 387h4v4h-4zM382 387h4v4h-4zM366 391h4v4h-4zM443 391h4v4h-4zM495 391h4v4h-4zM358 395h4v4h-4zM378 395h4v4h-4zM423 395h4v4h-4zM467 395h4v4h-4zM334 399h4v4h-4zM318 403h4v4h-4zM350 403h4v4h-4zM358 403h4v4h-4zM370 403h4v4h-4zM382 403h4v4h-4zM386 403h4v4h-4zM471 403h4v4h-4zM475 403h4v4h-4zM427 407h4v4h-4zM431 407h4v4h-4zM435 407h4v4h-4zM451 407h4v4h-4zM483 407h4v4h-4zM322 411h4v4h-4zM326 411h4v4h-4zM374 411h4v4h-4zM402 411h4v4h-4zM439 411h4v4h-4zM314 415h4v4h-4zM322 415h4v4h-4zM330 419h4v4h-4zM334 419h4v4h-4zM342 419h4v4h-4zM346 419h4v4h-4zM354 419h4v4h-4zM326 423h4v4h-4zM455 423h4v4h-4zM499 423h4v4h-4zM326 427h4v4h-4zM382 427h4v4h-4zM406 427h4v4h-4zM423 427h4v4h-4zM499 427h4v4h-4zM378 431h4v4h-4zM487 431h4v4h-4zM366 439h4v4h-4zM394 439h4v4h-4z"/>
<path fill="#bababa" d="M318 264h4v4h-4zM338 264h4v4h-4zM354 264h4v4h-4zM398 264h4v4h-4zM427 264h4v4h-4zM443 264h4v4h-4zM455 264h4v4h-4zM495 264h4v4h-4zM318 268h4v4h-4zM374 268h4v4h-4zM406 268h4v4h-4zM423 268h4v4h-4zM463 268h4v4h-4zM447 272h4v4h-4zM451 272h4v4h-4zM495 272h4v4h-4zM338 276h4v4h-4zM370 276h4v4h-4zM471 276h4v4h-4zM447 280h4v4h-4zM467 280h4v4h-4zM394 284h4v4h-4zM443 284h4v4h-4zM475 284h4v4h-4zM495 284h4v4h-4zM382 288h4v4h-4zM459 288h4v4h-4zM463 288h4v4h-4zM358 292h4v4h-4zM366 292h4v4h-4zM386 292h4v4h-4zM314 296h4v4h-4zM358 296h4v4h-4zM378 296h4v4h-4zM390 296h4v4h-4zM491 296h4v4h-4zM378 300h4v4h-4zM423 300h4v4h-4zM338 304h4v4h-4zM495 304h4v4h-4zM370 308h4v3h-4zM499 308h4v3h-4zM350 311h4v4h-4zM491 311h4v4h-4zM503 311h4v4h-4zM366 315h4v4h-4zM402 315h4v4h-4zM326 319h4v4h-4zM334 319h4v4h-4zM338 319h4v4h-4zM366 319h4v4h-4zM370 319h4v4h-4zM406 319h4v4h-4zM419 319h4v4h-4zM366 323h4v4h-4zM499 323h4v4h-4zM378 327h4v4h-4zM415 327h4v4h-4zM463 327h4v4h-4zM358 331h4v4h-4zM419 331h4v4h-4zM423 331h4v4h-4zM491 331h4v4h-4zM362 335h4v4h-4zM435 335h4v4h-4zM487 335h4v4h-4zM499 335h4v4h-4zM326 339h4v4h-4zM362 339h4v4h-4zM499 339h4v4h-4zM334 343h4v4h-4zM350 347h4v4h-4zM431 347h4v4h-4zM459 347h4v4h-4zM354 351h4v4h-4zM394 351h4v4h-4zM398 351h4v4h-4zM475 351h4v4h-4zM483 351h4v4h-4zM499 351h4v4h-4zM358 355h4v4h-4zM439 355h4v4h-4zM479 355h4v4h-4zM314 359h4v4h-4zM338 359h4v4h-4zM459 359h4v4h-4zM390 363h4v4h-4zM443 363h4v4h-4zM459 363h4v4h-4zM503 363h4v4h-4zM366 367h4v4h-4zM374 367h4v4h-4zM415 367h4v4h-4zM463 367h4v4h-4zM479 367h4v4h-4zM503 367h4v4h-4zM354 371h4v4h-4zM419 371h4v4h-4zM451 371h4v4h-4zM471 371h4v4h-4zM491 371h4v4h-4zM322 375h4v4h-4zM447 375h4v4h-4zM378 379h4v4h-4zM326 383h4v4h-4zM447 383h4v4h-4zM503 383h4v4h-4zM362 387h4v4h-4zM394 387h4v4h-4zM398 391h4v4h-4zM410 391h5v4h-5zM463 391h4v4h-4zM503 391h4v4h-4zM338 395h4v4h-4zM362 395h4v4h-4zM463 395h4v4h-4zM322 399h4v4h-4zM427 403h4v4h-4zM455 403h4v4h-4zM459 403h4v4h-4zM467 403h4v4h-4zM342 407h4v4h-4zM354 407h4v4h-4zM374 407h4v4h-4zM423 407h4v4h-4zM463 407h4v4h-4zM314 411h4v4h-4zM475 411h4v4h-4zM499 411h4v4h-4zM406 415h4v4h-4zM322 419h4v4h-4zM326 419h4v4h-4zM427 419h4v4h-4zM338 423h4v4h-4zM350 423h4v4h-4zM374 423h4v4h-4zM419 423h4v4h-4zM423 423h4v4h-4zM427 423h4v4h-4zM415 427h4v4h-4zM487 427h4v4h-4zM334 431h4v4h-4zM467 431h4v4h-4zM495 431h4v4h-4zM378 435h4v4h-4zM394 435h4v4h-4zM463 435h4v4h-4zM487 435h4v4h-4zM318 439h4v4h-4zM342 439h4v4h-4zM390 439h4v4h-4zM439 439h4v4h-4zM495 439h4v4h-4z"/>
<path fill="#c0c0c0" d="M334 264h4v4h-4zM370 264h4v4h-4zM415 264h4v4h-4zM451 264h4v4h-4zM499 264h4v4h-4zM342 268h4v4h-4zM366 268h4v4h-4zM326 272h4v4h-4zM342 272h4v4h-4zM370 272h4v4h-4zM402 272h4v4h-4zM451 276h4v4h-4zM439 280h4v4h-4zM471 280h4v4h-4zM451 284h4v4h-4zM378 288h4v4h-4zM410 288h5v4h-5zM455 288h4v4h-4zM491 288h4v4h-4zM354 292h4v4h-4zM495 292h4v4h-4zM362 296h4v4h-4zM423 296h4v4h-4zM342 300h4v4h-4zM402 300h4v4h-4zM483 308h4v3h-4zM398 311h4v4h-4zM431 311h4v4h-4zM318 315h4v4h-4zM370 315h4v4h-4zM386 315h4v4h-4zM386 319h4v4h-4zM410 319h5v4h-5zM467 319h4v4h-4zM370 323h4v4h-4zM382 323h4v4h-4zM415 323h4v4h-4zM495 327h4v4h-4zM402 331h4v4h-4zM427 331h4v4h-4zM431 331h4v4h-4zM503 331h4v4h-4zM342 335h4v4h-4zM354 335h4v4h-4zM443 339h4v4h-4zM495 339h4v4h-4zM439 343h4v4h-4zM427 347h4v4h-4zM419 351h4v4h-4zM394 355h4v4h-4zM447 355h4v4h-4zM499 355h4v4h-4zM443 359h4v4h-4zM451 359h4v4h-4zM374 363h4v4h-4zM479 363h4v4h-4zM483 363h4v4h-4zM342 367h4v4h-4zM386 367h4v4h-4zM447 367h4v4h-4zM475 367h4v4h-4zM362 371h4v4h-4zM374 371h4v4h-4zM447 379h4v4h-4zM382 383h4v4h-4zM451 387h4v4h-4zM374 391h4v4h-4zM435 391h4v4h-4zM439 391h4v4h-4zM346 395h4v4h-4zM435 395h4v4h-4zM459 395h4v4h-4zM499 395h4v4h-4zM378 399h4v4h-4zM439 399h4v4h-4zM402 403h4v4h-4zM423 403h4v4h-4zM314 407h4v4h-4zM427 411h4v4h-4zM427 415h4v4h-4zM451 415h4v4h-4zM338 419h4v4h-4zM410 419h5v4h-5zM487 419h4v4h-4zM358 423h4v4h-4zM314 427h4v4h-4zM322 427h4v4h-4zM354 427h4v4h-4zM495 427h4v4h-4zM455 431h4v4h-4zM374 435h4v4h-4zM435 435h4v4h-4zM314 439h4v4h-4zM487 439h4v4h-4z"/>
<path fill="#c6c6c6" d="M358 264h4v4h-4zM402 264h4v4h-4zM406 264h4v4h-4zM410 264h5v4h-5zM390 268h4v4h-4zM427 268h4v4h-4zM503 268h4v4h-4zM487 272h4v4h-4zM467 276h4v4h-4zM338 284h4v4h-4zM491 284h4v4h-4zM378 292h4v4h-4zM435 296h4v4h-4zM455 296h4v4h-4zM447 300h4v4h-4zM314 304h4v4h-4zM346 304h4v4h-4zM366 304h4v4h-4zM406 304h4v4h-4zM499 304h4v4h-4zM406 315h4v4h-4zM463 315h4v4h-4zM463 323h4v4h-4zM342 331h4v4h-4zM451 331h4v4h-4zM483 331h4v4h-4zM499 331h4v4h-4zM390 335h4v4h-4zM423 339h4v4h-4zM455 339h4v4h-4zM370 343h4v4h-4zM394 343h4v4h-4zM435 343h4v4h-4zM370 347h4v4h-4zM479 351h4v4h-4zM342 359h4v4h-4zM394 359h4v4h-4zM410 363h5v4h-5zM447 363h4v4h-4zM447 371h4v4h-4zM423 375h4v4h-4zM443 375h4v4h-4zM427 379h4v4h-4zM471 379h4v4h-4zM330 387h4v4h-4zM342 387h4v4h-4zM346 387h4v4h-4zM378 387h4v4h-4zM447 387h4v4h-4zM346 391h4v4h-4zM459 391h4v4h-4zM350 395h4v4h-4zM431 399h4v4h-4zM471 399h4v4h-4zM439 403h4v4h-4zM378 407h4v4h-4zM410 407h5v4h-5zM443 407h4v4h-4zM318 415h4v4h-4zM342 415h4v4h-4zM423 415h4v4h-4zM483 419h4v4h-4zM386 423h4v4h-4zM350 427h4v4h-4zM326 431h4v4h-4zM382 431h4v4h-4zM330 435h4v4h-4zM406 435h4v4h-4zM326 439h4v4h-4zM330 439h4v4h-4zM435 439h4v4h-4z"/>
<path fill="#cccccc" d="M431 264h4v4h-4zM467 264h4v4h-4zM402 268h4v4h-4zM410 268h5v4h-5zM499 268h4v4h-4zM366 272h4v4h-4zM406 272h4v4h-4zM455 272h4v4h-4zM358 304h4v4h-4zM479 304h4v4h-4zM503 308h4v3h-4zM346 311h4v4h-4zM435 319h4v4h-4zM374 323h4v4h-4zM467 323h4v4h-4zM350 327h4v4h-4zM495 331h4v4h-4zM358 343h4v4h-4zM443 343h4v4h-4zM362 347h4v4h-4zM402 347h4v4h-4zM435 347h4v4h-4zM362 351h4v4h-4zM423 351h4v4h-4zM338 363h4v4h-4zM443 367h4v4h-4zM475 371h4v4h-4zM415 375h4v4h-4zM467 379h4v4h-4zM354 391h4v4h-4zM334 395h4v4h-4zM314 399h4v4h-4zM435 399h4v4h-4zM358 407h4v4h-4zM439 407h4v4h-4zM318 411h4v4h-4zM483 411h4v4h-4zM495 423h4v4h-4zM346 427h4v4h-4zM318 431h4v4h-4zM322 435h4v4h-4zM338 435h4v4h-4zM334 439h4v4h-4z"/>
<path fill="#d2d2d2" d="M463 264h4v4h-4zM314 284h4v4h-4zM366 288h4v4h-4zM350 308h4v3h-4zM322 319h4v4h-4zM491 319h4v4h-4zM326 335h4v4h-4zM374 343h4v4h-4zM423 343h4v4h-4zM447 359h4v4h-4zM439 395h4v4h-4zM463 399h4v4h-4zM431 403h4v4h-4zM479 415h4v4h-4zM483 415h4v4h-4zM423 419h4v4h-4zM362 439h4v4h-4z"/>
<path fill="#d8d8d8" d="M362 272h4v4h-4zM318 284h4v4h-4zM314 300h4v4h-4zM463 319h4v4h-4zM350 391h4v4h-4zM503 399h4v4h-4z"/>
<path fill="#dedede" d="M370 268h4v4h-4zM366 347h4v4h-4zM354 403h4v4h-4zM479 411h4v4h-4zM491 431h4v4h-4zM491 435h4v4h-4zM495 435h4v4h-4z"/>
<path fill="#e4e4e4" d="M362 292h4v4h-4zM346 308h4v3h-4zM390 355h4v4h-4zM491 439h4v4h-4z"/>
</g>
<rect x="392.6" y="294.5" width="12.2" height="7.3" fill="#fcfcfc"/>
<rect x="404.8" y="295.0" width="3.7" height="6.8" fill="#d8d8d8"/>
<rect x="396.3" y="301.8" width="12.2" height="3.7" fill="#cecece"/>
<rect x="388.4" y="290.8" width="3.6" height="3.7" fill="#e1e1e1"/>
<rect x="404.8" y="283.5" width="3.7" height="3.7" fill="#d6d6d6"/>
<rect x="396.3" y="264.6" width="8.5" height="3.1" fill="#e6e6e6"/>
<rect x="396.3" y="267.7" width="12.2" height="3.3" fill="#cccccc"/>
<rect x="378.0" y="271.3" width="2.4" height="3.7" fill="#e8e8e8"/>
<rect x="378.0" y="264.0" width="5.5" height="6.0" fill="#585858"/>
<rect x="378.0" y="264.0" width="3.5" height="2.5" fill="#3e3e3e"/>
<rect x="372.2" y="283.3" width="7.4" height="7.4" fill="#f0f0f0"/>
<rect x="372.2" y="271.3" width="7.4" height="3.7" fill="#dedede"/>
<rect x="315.8" y="287.0" width="2.8" height="3.7" fill="#ececec"/>
<rect x="335.3" y="306.4" width="3.7" height="6.5" fill="#f2f2f2"/>
<rect x="379.9" y="300.7" width="4.1" height="5.3" fill="#4b4b4b"/>
<rect x="379.9" y="306.0" width="8.4" height="3.5" fill="#5f5f5f"/>
<rect x="384.0" y="298.8" width="4.3" height="7.2" fill="#0a0a0a"/>
<rect x="379.9" y="321.2" width="4.1" height="8.4" fill="#3c3c3c"/>
<rect x="392.9" y="321.2" width="7.6" height="9.8" fill="#555555"/>
<rect x="388.0" y="313.5" width="4.9" height="3.9" fill="#696969"/>
<rect x="396.7" y="317.4" width="3.8" height="3.8" fill="#4b4b4b"/>
<rect x="384.0" y="317.4" width="8.9" height="15.3" fill="#050505"/>
<rect x="392.9" y="317.4" width="3.8" height="3.8" fill="#0f0f0f"/>
<rect x="376.1" y="344.1" width="3.8" height="3.9" fill="#5f5f5f"/>
<rect x="376.1" y="336.5" width="3.8" height="7.6" fill="#0a0a0a"/>
<rect x="375.9" y="264.8" width="8.3" height="3.7" fill="#505050"/>
<rect x="342.7" y="290.7" width="4.6" height="3.7" fill="#5c5c5c"/>
<rect x="355.6" y="294.4" width="7.4" height="5.6" fill="#646464"/>
<rect x="318.3" y="267.7" width="4.0" height="4.0" fill="#d7d7d7"/>
<rect x="322.3" y="275.7" width="4.0" height="4.0" fill="#d2d2d2"/>
<rect x="354.4" y="283.6" width="4.0" height="4.0" fill="#dcdcdc"/>
<rect x="342.5" y="291.6" width="4.0" height="4.0" fill="#585858"/>
<rect x="342.5" y="295.6" width="8.0" height="4.0" fill="#707070"/>
<rect x="354.4" y="295.6" width="8.0" height="4.0" fill="#5c5c5c"/>
<rect x="338.3" y="299.5" width="4.0" height="4.0" fill="#6a6a6a"/>
<rect x="354.4" y="299.5" width="4.0" height="4.0" fill="#d6d6d6"/>
<rect x="335.3" y="312.9" width="3.7" height="3.1" fill="#d6d6d6"/>
<rect x="326.3" y="295.6" width="4.0" height="4.0" fill="#cdcdcd"/>
<rect x="354.4" y="311.5" width="4.0" height="4.0" fill="#e8e8e8"/>
<rect x="366.4" y="299.5" width="4.0" height="8.0" fill="#cdcdcd"/>
<rect x="366.4" y="307.5" width="8.0" height="4.0" fill="#cdcdcd"/>
<rect x="372.3" y="328.1" width="3.8" height="6.1" fill="#e1e1e1"/>
<rect x="351.2" y="336.2" width="4.3" height="3.7" fill="#e1e1e1"/>
<rect x="335.3" y="331.3" width="8.0" height="4.9" fill="#cecece"/>
<rect x="359.7" y="328.9" width="3.7" height="3.6" fill="#707070"/>
<rect x="351.2" y="324.6" width="7.8" height="3.1" fill="#7a7a7a"/>
<rect x="355.5" y="355.7" width="3.6" height="3.7" fill="#747474"/>
<rect x="364.0" y="347.8" width="3.7" height="3.6" fill="#7a7a7a"/>
<rect x="453.8" y="264.6" width="8.0" height="11.2" fill="#fcfcfc"/>
<rect x="458.1" y="271.4" width="3.7" height="15.5" fill="#fcfcfc"/>
<rect x="461.8" y="279.5" width="3.7" height="4.3" fill="#f8f8f8"/>
<rect x="453.8" y="279.5" width="4.3" height="7.4" fill="#eaeaea"/>
<rect x="461.8" y="271.4" width="3.7" height="8.1" fill="#d6d6d6"/>
<rect x="461.8" y="286.9" width="3.7" height="3.7" fill="#dcdcdc"/>
<rect x="487.2" y="298.7" width="3.7" height="3.7" fill="#dcdcdc"/>
<rect x="474.2" y="298.7" width="8.6" height="3.1" fill="#c8c8c8"/>
<rect x="487.2" y="267.7" width="3.7" height="7.3" fill="#cdcdcd"/>
<rect x="487.2" y="306.0" width="3.7" height="10.0" fill="#7a7a7a"/>
<rect x="461.8" y="309.8" width="8.0" height="3.1" fill="#707070"/>
<rect x="453.8" y="295.0" width="4.3" height="3.7" fill="#dcdcdc"/>
<rect x="453.8" y="302.4" width="4.3" height="3.7" fill="#dcdcdc"/>
<rect x="417.0" y="279.2" width="3.9" height="8.0" fill="#fafafa"/>
<rect x="413.4" y="287.2" width="3.6" height="7.3" fill="#eaeaea"/>
<rect x="428.6" y="294.5" width="3.1" height="6.1" fill="#cecece"/>
<rect x="441.4" y="280.6" width="4.6" height="5.5" fill="#e2e2e2"/>
<rect x="466.4" y="301.8" width="3.7" height="4.6" fill="#f6f6f6"/>
<rect x="450.0" y="306.1" width="3.8" height="11.1" fill="#d8d8d8"/>
<rect x="478.4" y="313.8" width="4.6" height="6.5" fill="#dcdcdc"/>
<rect x="459.0" y="332.3" width="10.1" height="4.6" fill="#484848"/>
<rect x="469.1" y="327.7" width="5.6" height="3.7" fill="#525252"/>
<rect x="469.1" y="331.4" width="9.3" height="5.5" fill="#080808"/>
<rect x="478.4" y="332.3" width="3.6" height="4.6" fill="#6e6e6e"/>
<rect x="502.4" y="336.0" width="4.3" height="3.7" fill="#323232"/>
<rect x="483.0" y="336.0" width="3.7" height="4.6" fill="#d8d8d8"/>
<rect x="438.6" y="264.0" width="4.6" height="3.5" fill="#5c5c5c"/>
<rect x="433.2" y="328.9" width="3.8" height="3.8" fill="#d7d7d7"/>
<rect x="421.0" y="325.0" width="3.9" height="3.0" fill="#d2d2d2"/>
<rect x="424.9" y="344.1" width="3.8" height="7.6" fill="#585858"/>
<rect x="424.9" y="328.9" width="3.8" height="3.1" fill="#686868"/>
<rect x="458.1" y="336.9" width="20.3" height="3.1" fill="#7c7c7c"/>
<rect x="486.6" y="351.8" width="4.3" height="3.8" fill="#e1e1e1"/>
<rect x="453.8" y="325.2" width="3.7" height="3.8" fill="#cecece"/>
<rect x="469.8" y="348.1" width="4.4" height="3.7" fill="#707070"/>
<rect x="466.7" y="355.6" width="7.5" height="3.7" fill="#747474"/>
<rect x="404.7" y="332.7" width="9.5" height="3.8" fill="#5f5f5f"/>
<rect x="401.2" y="336.5" width="3.5" height="7.6" fill="#464646"/>
<rect x="409.6" y="347.9" width="6.9" height="3.1" fill="#555555"/>
<rect x="404.7" y="336.5" width="11.8" height="11.4" fill="#000000"/>
<rect x="401.2" y="344.1" width="8.4" height="6.9" fill="#050505"/>
<rect x="314.3" y="397.4" width="3.8" height="4.1" fill="#5f5f5f"/>
<rect x="318.1" y="397.4" width="4.8" height="8.3" fill="#121212"/>
<rect x="363.9" y="424.2" width="8.3" height="8.3" fill="#fcfcfc"/>
<rect x="351.0" y="370.6" width="4.6" height="4.6" fill="#f5f5f5"/>
<rect x="355.6" y="374.3" width="3.7" height="3.7" fill="#dcdcdc"/>
<rect x="330.6" y="386.3" width="4.7" height="7.4" fill="#f0f0f0"/>
<rect x="335.3" y="354.8" width="3.7" height="3.7" fill="#dcdcdc"/>
<rect x="347.3" y="359.5" width="3.7" height="3.7" fill="#e1e1e1"/>
<rect x="318.6" y="354.0" width="3.7" height="4.5" fill="#d2d2d2"/>
<rect x="393.5" y="378.9" width="11.1" height="6.4" fill="#787878"/>
<rect x="404.6" y="394.6" width="5.9" height="6.4" fill="#767676"/>
<rect x="384.2" y="424.2" width="3.8" height="6.4" fill="#e1e1e1"/>
<rect x="372.2" y="405.7" width="3.8" height="3.7" fill="#d7d7d7"/>
<rect x="391.6" y="402.0" width="3.7" height="3.7" fill="#d7d7d7"/>
<rect x="400.0" y="355.5" width="4.6" height="6.7" fill="#d7d7d7"/>
<rect x="404.6" y="409.4" width="5.4" height="7.4" fill="#d2d2d2"/>
<rect x="343.6" y="436.2" width="3.7" height="4.6" fill="#e1e1e1"/>
<rect x="376.9" y="382.6" width="2.7" height="10.1" fill="#cdcdcd"/>
<rect x="392.0" y="355.5" width="4.0" height="4.5" fill="#cdcdcd"/>
<rect x="486.8" y="409.5" width="7.9" height="3.7" fill="#e2e2e2"/>
<rect x="490.9" y="408.6" width="3.8" height="3.8" fill="#eeeeee"/>
<rect x="494.7" y="389.3" width="8.5" height="34.7" fill="#fcfcfc"/>
<rect x="503.2" y="407.8" width="3.5" height="9.2" fill="#fafafa"/>
<rect x="503.2" y="384.0" width="3.5" height="23.8" fill="#c6c6c6"/>
<rect x="494.7" y="355.4" width="8.5" height="3.9" fill="#484848"/>
<rect x="503.2" y="355.4" width="3.5" height="3.9" fill="#141414"/>
<rect x="494.7" y="359.3" width="8.5" height="7.7" fill="#262626"/>
<rect x="503.2" y="359.3" width="3.5" height="11.5" fill="#626262"/>
<rect x="494.7" y="367.0" width="3.9" height="7.7" fill="#707070"/>
<rect x="498.6" y="370.8" width="8.1" height="3.9" fill="#191919"/>
<rect x="498.6" y="367.0" width="4.6" height="3.8" fill="#787878"/>
<rect x="487.0" y="431.7" width="12.4" height="8.5" fill="#fafafa"/>
<rect x="499.4" y="434.0" width="3.8" height="6.2" fill="#e2e2e2"/>
<rect x="474.7" y="393.2" width="7.7" height="3.8" fill="#767676"/>
<rect x="470.9" y="397.0" width="3.8" height="4.0" fill="#686868"/>
<rect x="422.0" y="436.2" width="7.4" height="5.5" fill="#f0f0f0"/>
<rect x="441.4" y="416.8" width="3.7" height="3.7" fill="#d7d7d7"/>
<rect x="445.1" y="416.8" width="4.6" height="3.7" fill="#fafafa"/>
<rect x="434.0" y="375.2" width="7.4" height="10.1" fill="#d7d7d7"/>
<rect x="434.0" y="381.7" width="3.7" height="4.6" fill="#f0f0f0"/>
<rect x="425.7" y="366.9" width="3.7" height="3.7" fill="#ebebeb"/>
<rect x="474.7" y="374.3" width="4.6" height="4.6" fill="#e6e6e6"/>
<rect x="483.0" y="416.8" width="3.7" height="3.7" fill="#323232"/>
<rect x="466.4" y="392.7" width="3.7" height="12.1" fill="#cdcdcd"/>
<rect x="474.7" y="389.0" width="7.4" height="4.7" fill="#646464"/>
<rect x="483.0" y="369.6" width="3.7" height="4.7" fill="#d7d7d7"/>
<rect x="421.0" y="353.0" width="8.4" height="2.8" fill="#646464"/>
<rect x="412.8" y="390.0" width="3.7" height="3.7" fill="#d7d7d7"/>
<text transform="translate(272 353.60) rotate(-90)" font-size="9" text-anchor="middle">y-distance [km]</text>
<path d="M314.3 322.8h3.4M314.3 383.7h3.4M506.7 322.8h-3.4M506.7 383.7h-3.4M378.4 442.9v-3M442.6 442.9v-3M378.4 263.7v3M442.6 263.7v3" stroke="#222" stroke-opacity="0.55" stroke-width="0.8" fill="none"/>
<rect x="314.30" y="263.70" width="192.40" height="179.20" fill="none" stroke="#000" stroke-opacity="0.4" stroke-width="0.8"/>
<line x1="314.30" y1="342.1" x2="506.70" y2="342.1" stroke="#000" stroke-opacity="0.45" stroke-width="1"/>
<line x1="410.0" y1="263.70" x2="410.0" y2="442.90" stroke="#000" stroke-opacity="0.45" stroke-width="1"/>
<circle cx="410.0" cy="342.3" r="13.7" fill="none" stroke="#2a2a2a" stroke-width="0.6"/>
<rect x="314.50" y="478.70" width="192.40" height="179.20" fill="none" stroke="#9a9a9a" stroke-width="0.8"/>
<path d="M314.50 657.90v-2.60M314.50 478.70v2.60M378.63 657.90v-2.60M378.63 478.70v2.60M442.77 657.90v-2.60M442.77 478.70v2.60M506.90 657.90v-2.60M506.90 478.70v2.60" stroke="#9a9a9a" stroke-width="0.8" fill="none"/>
<path d="M314.50 657.90h2.60M506.90 657.90h-2.60M314.50 651.93h1.40M506.90 651.93h-1.40M314.50 645.95h1.40M506.90 645.95h-1.40M314.50 639.98h1.40M506.90 639.98h-1.40M314.50 634.01h1.40M506.90 634.01h-1.40M314.50 628.03h1.40M506.90 628.03h-1.40M314.50 622.06h1.40M506.90 622.06h-1.40M314.50 616.09h1.40M506.90 616.09h-1.40M314.50 610.11h1.40M506.90 610.11h-1.40M314.50 604.14h1.40M506.90 604.14h-1.40M314.50 598.17h2.60M506.90 598.17h-2.60M314.50 592.19h1.40M506.90 592.19h-1.40M314.50 586.22h1.40M506.90 586.22h-1.40M314.50 580.25h1.40M506.90 580.25h-1.40M314.50 574.27h1.40M506.90 574.27h-1.40M314.50 568.30h1.40M506.90 568.30h-1.40M314.50 562.33h1.40M506.90 562.33h-1.40M314.50 556.35h1.40M506.90 556.35h-1.40M314.50 550.38h1.40M506.90 550.38h-1.40M314.50 544.41h1.40M506.90 544.41h-1.40M314.50 538.43h2.60M506.90 538.43h-2.60M314.50 532.46h1.40M506.90 532.46h-1.40M314.50 526.49h1.40M506.90 526.49h-1.40M314.50 520.51h1.40M506.90 520.51h-1.40M314.50 514.54h1.40M506.90 514.54h-1.40M314.50 508.57h1.40M506.90 508.57h-1.40M314.50 502.59h1.40M506.90 502.59h-1.40M314.50 496.62h1.40M506.90 496.62h-1.40M314.50 490.65h1.40M506.90 490.65h-1.40M314.50 484.67h1.40M506.90 484.67h-1.40M314.50 478.70h2.60M506.90 478.70h-2.60" stroke="#9a9a9a" stroke-width="0.8" fill="none"/>
<text transform="translate(289.2 568.50) rotate(-90)" font-size="9" text-anchor="middle">Magnetic field B[G]</text>
<line x1="409.70" y1="478.70" x2="409.70" y2="657.90" stroke="#a8a8a8" stroke-width="1.2"/>
<polyline points="314.50,587.71 506.90,587.71" fill="none" stroke="#8e8e8e" stroke-width="1.15" stroke-dasharray="1.1 2.25"/>
<path d="M314.50 652.52V652.52H318.30V654.32H322.30V656.71H326.30V657.30H330.30V656.71H334.30V655.51H338.30V654.32H342.30V656.71H346.30V651.33H350.30V656.11H354.30V657.30H358.30V653.72H362.30V657.30H366.30V657.30H370.30V651.93H374.30V631.62H378.30V649.54H382.30V656.71H386.30V656.11H390.30V653.72H394.30V650.31H398.30V646.31H402.30V631.98H406.30V517.53H410.30V611.31H414.30V650.31H418.30V651.45H422.30V657.30H426.30V651.45H430.30V653.12H434.30V657.30H438.30V657.00H442.30V656.11H446.30V655.51H450.30V653.72H454.30V652.52H458.30V653.72H462.30V656.71H466.30V657.30H470.30V656.11H474.30V656.11H478.30V653.12H482.30V652.52H486.30V654.32H490.30V657.30H494.30V652.52H498.30V654.91H502.30V654.91H506.30" fill="none" stroke="#3c3c3c" stroke-width="0.6"/>
<polyline points="314.50,657.60 400.30,657.60 404.30,631.98 408.30,517.53 412.30,611.31 416.30,650.73 420.30,654.32 424.30,657.30 428.30,652.52 432.30,653.12 436.30,657.30 506.90,657.30" fill="none" stroke="#4a4a4a" stroke-width="0.5" />
<text x="36.80" y="141.80" font-size="9" text-anchor="end" >-1000</text>
<text x="36.80" y="112.75" font-size="9" text-anchor="end" >-500</text>
<text x="36.80" y="80.50" font-size="9" text-anchor="end" >0</text>
<text x="36.80" y="48.25" font-size="9" text-anchor="end" >500</text>
<text x="36.80" y="18.20" font-size="9" text-anchor="end" >1000</text>
<text x="39.40" y="153.30" font-size="9" text-anchor="middle" >0</text>
<text x="71.45" y="153.30" font-size="9" text-anchor="middle" >200</text>
<text x="103.50" y="153.30" font-size="9" text-anchor="middle" >400</text>
<text x="135.55" y="153.30" font-size="9" text-anchor="middle" >600</text>
<text x="167.60" y="153.30" font-size="9" text-anchor="middle" >800</text>
<text x="199.65" y="153.30" font-size="9" text-anchor="middle" >1000</text>
<text x="231.70" y="153.30" font-size="9" text-anchor="middle" >1200</text>
<text x="49.30" y="38.50" font-size="17.8" text-anchor="start" >(a)</text>
<text x="36.80" y="270.80" font-size="9" text-anchor="end" >-1000</text>
<text x="36.80" y="241.75" font-size="9" text-anchor="end" >-500</text>
<text x="36.80" y="209.50" font-size="9" text-anchor="end" >0</text>
<text x="36.80" y="177.25" font-size="9" text-anchor="end" >500</text>
<text x="36.80" y="147.20" font-size="9" text-anchor="end" >1000</text>
<text x="39.40" y="282.30" font-size="9" text-anchor="middle" >0</text>
<text x="71.45" y="282.30" font-size="9" text-anchor="middle" >200</text>
<text x="103.50" y="282.30" font-size="9" text-anchor="middle" >400</text>
<text x="135.55" y="282.30" font-size="9" text-anchor="middle" >600</text>
<text x="167.60" y="282.30" font-size="9" text-anchor="middle" >800</text>
<text x="199.65" y="282.30" font-size="9" text-anchor="middle" >1000</text>
<text x="231.70" y="282.30" font-size="9" text-anchor="middle" >1200</text>
<text x="49.30" y="167.50" font-size="17.8" text-anchor="start" >(b)</text>
<text x="36.80" y="399.80" font-size="9" text-anchor="end" >0</text>
<text x="36.80" y="370.75" font-size="9" text-anchor="end" >500</text>
<text x="36.80" y="338.50" font-size="9" text-anchor="end" >1000</text>
<text x="36.80" y="306.25" font-size="9" text-anchor="end" >1500</text>
<text x="36.80" y="276.20" font-size="9" text-anchor="end" >2000</text>
<text x="39.40" y="411.30" font-size="9" text-anchor="middle" >0</text>
<text x="71.45" y="411.30" font-size="9" text-anchor="middle" >200</text>
<text x="103.50" y="411.30" font-size="9" text-anchor="middle" >400</text>
<text x="135.55" y="411.30" font-size="9" text-anchor="middle" >600</text>
<text x="167.60" y="411.30" font-size="9" text-anchor="middle" >800</text>
<text x="199.65" y="411.30" font-size="9" text-anchor="middle" >1000</text>
<text x="231.70" y="411.30" font-size="9" text-anchor="middle" >1200</text>
<text x="49.30" y="296.50" font-size="17.8" text-anchor="start" >(c)</text>
<text x="36.80" y="528.80" font-size="9" text-anchor="end" >0</text>
<text x="36.80" y="506.20" font-size="9" text-anchor="end" >500</text>
<text x="36.80" y="480.40" font-size="9" text-anchor="end" >1000</text>
<text x="36.80" y="454.60" font-size="9" text-anchor="end" >1500</text>
<text x="36.80" y="428.80" font-size="9" text-anchor="end" >2000</text>
<text x="36.80" y="405.20" font-size="9" text-anchor="end" >2500</text>
<text x="39.40" y="540.30" font-size="9" text-anchor="middle" >0</text>
<text x="71.45" y="540.30" font-size="9" text-anchor="middle" >200</text>
<text x="103.50" y="540.30" font-size="9" text-anchor="middle" >400</text>
<text x="135.55" y="540.30" font-size="9" text-anchor="middle" >600</text>
<text x="167.60" y="540.30" font-size="9" text-anchor="middle" >800</text>
<text x="199.65" y="540.30" font-size="9" text-anchor="middle" >1000</text>
<text x="231.70" y="540.30" font-size="9" text-anchor="middle" >1200</text>
<text x="49.30" y="425.50" font-size="17.8" text-anchor="start" >(d)</text>
<text x="36.80" y="657.80" font-size="9" text-anchor="end" >0</text>
<text x="36.80" y="639.50" font-size="9" text-anchor="end" >50</text>
<text x="36.80" y="618.00" font-size="9" text-anchor="end" >100</text>
<text x="36.80" y="596.50" font-size="9" text-anchor="end" >150</text>
<text x="36.80" y="575.00" font-size="9" text-anchor="end" >200</text>
<text x="36.80" y="553.50" font-size="9" text-anchor="end" >250</text>
<text x="36.80" y="534.20" font-size="9" text-anchor="end" >300</text>
<text x="39.40" y="669.30" font-size="9" text-anchor="middle" >0</text>
<text x="71.45" y="669.30" font-size="9" text-anchor="middle" >200</text>
<text x="103.50" y="669.30" font-size="9" text-anchor="middle" >400</text>
<text x="135.55" y="669.30" font-size="9" text-anchor="middle" >600</text>
<text x="167.60" y="669.30" font-size="9" text-anchor="middle" >800</text>
<text x="199.65" y="669.30" font-size="9" text-anchor="middle" >1000</text>
<text x="231.70" y="669.30" font-size="9" text-anchor="middle" >1200</text>
<text x="49.30" y="554.50" font-size="17.8" text-anchor="start" >(e)</text>
<text x="135.55" y="8.20" font-size="11" text-anchor="middle" >Magnetic element #&#160; 1</text>
<text x="135.55" y="679.00" font-size="9" text-anchor="middle" >Time&#160; t[s]</text>
<text x="59.00" y="516.30" font-size="13.5" text-anchor="start" >CCC_w= 0.82</text>
<text x="184.00" y="640.90" font-size="9" text-anchor="start" >Threshold</text>
<text x="311.90" y="227.90" font-size="9" text-anchor="end" >-1000</text>
<text x="311.90" y="177.32" font-size="9" text-anchor="end" >-500</text>
<text x="311.90" y="123.55" font-size="9" text-anchor="end" >0</text>
<text x="311.90" y="69.78" font-size="9" text-anchor="end" >500</text>
<text x="311.90" y="18.20" font-size="9" text-anchor="end" >1000</text>
<text x="314.50" y="239.40" font-size="9" text-anchor="middle" >-1000</text>
<text x="362.60" y="239.40" font-size="9" text-anchor="middle" >-500</text>
<text x="410.70" y="239.40" font-size="9" text-anchor="middle" >0</text>
<text x="458.80" y="239.40" font-size="9" text-anchor="middle" >500</text>
<text x="506.90" y="239.40" font-size="9" text-anchor="middle" >1000</text>
<text x="324.50" y="34.00" font-size="17.8" text-anchor="start" >(f)</text>
<text x="410.70" y="249.80" font-size="9" text-anchor="middle" >x-distance [km]</text>
<text x="365.40" y="119.30" font-size="9" text-anchor="start" >Start</text>
<text x="411.30" y="120.10" font-size="9" text-anchor="start" >End</text>
<text x="318.70" y="154.90" font-size="9" text-anchor="start" >L2=&#160;&#160; 476 km</text>
<text x="318.70" y="167.90" font-size="9" text-anchor="start" >t=&#160;&#160; 720 s</text>
<text x="318.70" y="180.90" font-size="9" text-anchor="start" >v= 0.662 km/s</text>
<text x="318.70" y="193.90" font-size="9" text-anchor="start" >nrebin= 2</text>
<text x="318.70" y="206.90" font-size="9" text-anchor="start" >CCC_min=&#160; 0.50</text>
<text x="318.70" y="219.90" font-size="9" text-anchor="start" >n_sig= 3.0</text>
<text x="324.50" y="281.50" font-size="17.8" text-anchor="start" >(g)</text>
<text x="410.50" y="464.80" font-size="9" text-anchor="middle" >x-distance [km]</text>
<text x="315.10" y="454.50" font-size="9" text-anchor="middle" >-1.74&#215;10<tspan font-size="6.3" dy="-3.8">4</tspan></text>
<text x="379.23" y="454.50" font-size="9" text-anchor="middle" >-5.80&#215;10<tspan font-size="6.3" dy="-3.8">3</tspan></text>
<text x="443.37" y="454.50" font-size="9" text-anchor="middle" >5.80&#215;10<tspan font-size="6.3" dy="-3.8">3</tspan></text>
<text x="507.50" y="454.50" font-size="9" text-anchor="middle" >1.74&#215;10<tspan font-size="6.3" dy="-3.8">4</tspan></text>
<text x="313.60" y="269.20" font-size="9" text-anchor="end" >-4.8&#215;10<tspan font-size="6.3" dy="-3.8">2</tspan></text>
<text x="313.60" y="327.20" font-size="9" text-anchor="end" >-1.2&#215;10<tspan font-size="6.3" dy="-3.8">4</tspan></text>
<text x="313.60" y="386.90" font-size="9" text-anchor="end" >-2.4&#215;10<tspan font-size="6.3" dy="-3.8">4</tspan></text>
<text x="313.60" y="443.20" font-size="9" text-anchor="end" >-3.5&#215;10<tspan font-size="6.3" dy="-3.8">4</tspan></text>
<text x="311.90" y="657.90" font-size="9" text-anchor="end" >0</text>
<text x="311.90" y="601.37" font-size="9" text-anchor="end" >100</text>
<text x="311.90" y="541.63" font-size="9" text-anchor="end" >200</text>
<text x="311.90" y="484.10" font-size="9" text-anchor="end" >300</text>
<text x="315.30" y="669.50" font-size="9" text-anchor="middle" >-1.74&#215;10<tspan font-size="6.3" dy="-3.8">4</tspan></text>
<text x="379.43" y="669.50" font-size="9" text-anchor="middle" >-5.80&#215;10<tspan font-size="6.3" dy="-3.8">3</tspan></text>
<text x="443.57" y="669.50" font-size="9" text-anchor="middle" >5.80&#215;10<tspan font-size="6.3" dy="-3.8">3</tspan></text>
<text x="507.70" y="669.50" font-size="9" text-anchor="middle" >1.74&#215;10<tspan font-size="6.3" dy="-3.8">4</tspan></text>
<text x="324.20" y="496.70" font-size="17.8" text-anchor="start" >(h)</text>
<text x="410.70" y="679.80" font-size="9" text-anchor="middle" >x-distance [km]</text>
<text x="414.20" y="587.90" font-size="13.6" text-anchor="start" >FWHM=1237 km</text>
</g>
</svg></body></html>
